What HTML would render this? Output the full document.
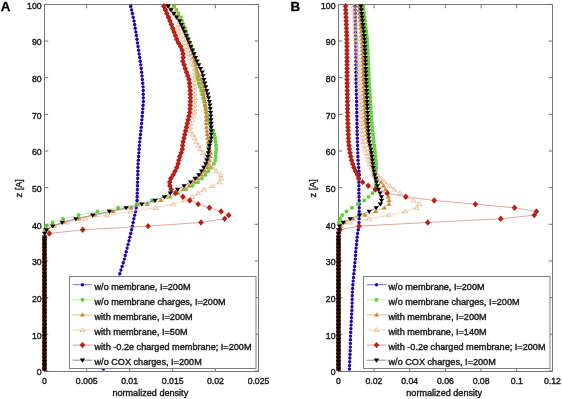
<!DOCTYPE html>
<html><head><meta charset="utf-8"><style>
html,body{margin:0;padding:0;background:#fff;width:562px;height:399px;overflow:hidden}
svg{display:block;filter:blur(0.35px)}
text{font-family:"Liberation Sans",sans-serif}
</style></head><body>
<svg width="562" height="399" viewBox="0 0 562 399">
<rect x="0" y="0" width="562" height="399" fill="#ffffff"/>
<rect x="44.5" y="4.5" width="214.0" height="367.0" fill="none" stroke="#767676" stroke-width="1"/>
<line x1="44.5" y1="371.5" x2="44.5" y2="367.7" stroke="#767676" stroke-width="1"/>
<line x1="44.5" y1="4.5" x2="44.5" y2="8.3" stroke="#767676" stroke-width="1"/>
<line x1="86.7" y1="371.5" x2="86.7" y2="367.7" stroke="#767676" stroke-width="1"/>
<line x1="86.7" y1="4.5" x2="86.7" y2="8.3" stroke="#767676" stroke-width="1"/>
<line x1="129.6" y1="371.5" x2="129.6" y2="367.7" stroke="#767676" stroke-width="1"/>
<line x1="129.6" y1="4.5" x2="129.6" y2="8.3" stroke="#767676" stroke-width="1"/>
<line x1="172.7" y1="371.5" x2="172.7" y2="367.7" stroke="#767676" stroke-width="1"/>
<line x1="172.7" y1="4.5" x2="172.7" y2="8.3" stroke="#767676" stroke-width="1"/>
<line x1="215.4" y1="371.5" x2="215.4" y2="367.7" stroke="#767676" stroke-width="1"/>
<line x1="215.4" y1="4.5" x2="215.4" y2="8.3" stroke="#767676" stroke-width="1"/>
<line x1="258.5" y1="371.5" x2="258.5" y2="367.7" stroke="#767676" stroke-width="1"/>
<line x1="258.5" y1="4.5" x2="258.5" y2="8.3" stroke="#767676" stroke-width="1"/>
<line x1="44.5" y1="370.9" x2="48.3" y2="370.9" stroke="#767676" stroke-width="1"/>
<line x1="258.5" y1="370.9" x2="254.7" y2="370.9" stroke="#767676" stroke-width="1"/>
<line x1="44.5" y1="334.25" x2="48.3" y2="334.25" stroke="#767676" stroke-width="1"/>
<line x1="258.5" y1="334.25" x2="254.7" y2="334.25" stroke="#767676" stroke-width="1"/>
<line x1="44.5" y1="297.59999999999997" x2="48.3" y2="297.59999999999997" stroke="#767676" stroke-width="1"/>
<line x1="258.5" y1="297.59999999999997" x2="254.7" y2="297.59999999999997" stroke="#767676" stroke-width="1"/>
<line x1="44.5" y1="260.95" x2="48.3" y2="260.95" stroke="#767676" stroke-width="1"/>
<line x1="258.5" y1="260.95" x2="254.7" y2="260.95" stroke="#767676" stroke-width="1"/>
<line x1="44.5" y1="224.29999999999998" x2="48.3" y2="224.29999999999998" stroke="#767676" stroke-width="1"/>
<line x1="258.5" y1="224.29999999999998" x2="254.7" y2="224.29999999999998" stroke="#767676" stroke-width="1"/>
<line x1="44.5" y1="187.64999999999998" x2="48.3" y2="187.64999999999998" stroke="#767676" stroke-width="1"/>
<line x1="258.5" y1="187.64999999999998" x2="254.7" y2="187.64999999999998" stroke="#767676" stroke-width="1"/>
<line x1="44.5" y1="150.99999999999997" x2="48.3" y2="150.99999999999997" stroke="#767676" stroke-width="1"/>
<line x1="258.5" y1="150.99999999999997" x2="254.7" y2="150.99999999999997" stroke="#767676" stroke-width="1"/>
<line x1="44.5" y1="114.34999999999997" x2="48.3" y2="114.34999999999997" stroke="#767676" stroke-width="1"/>
<line x1="258.5" y1="114.34999999999997" x2="254.7" y2="114.34999999999997" stroke="#767676" stroke-width="1"/>
<line x1="44.5" y1="77.69999999999999" x2="48.3" y2="77.69999999999999" stroke="#767676" stroke-width="1"/>
<line x1="258.5" y1="77.69999999999999" x2="254.7" y2="77.69999999999999" stroke="#767676" stroke-width="1"/>
<line x1="44.5" y1="41.049999999999955" x2="48.3" y2="41.049999999999955" stroke="#767676" stroke-width="1"/>
<line x1="258.5" y1="41.049999999999955" x2="254.7" y2="41.049999999999955" stroke="#767676" stroke-width="1"/>
<line x1="44.5" y1="4.399999999999977" x2="48.3" y2="4.399999999999977" stroke="#767676" stroke-width="1"/>
<line x1="258.5" y1="4.399999999999977" x2="254.7" y2="4.399999999999977" stroke="#767676" stroke-width="1"/>
<rect x="338.5" y="4.5" width="214.0" height="367.0" fill="none" stroke="#767676" stroke-width="1"/>
<line x1="338.5" y1="371.5" x2="338.5" y2="367.7" stroke="#767676" stroke-width="1"/>
<line x1="338.5" y1="4.5" x2="338.5" y2="8.3" stroke="#767676" stroke-width="1"/>
<line x1="374.0" y1="371.5" x2="374.0" y2="367.7" stroke="#767676" stroke-width="1"/>
<line x1="374.0" y1="4.5" x2="374.0" y2="8.3" stroke="#767676" stroke-width="1"/>
<line x1="409.7" y1="371.5" x2="409.7" y2="367.7" stroke="#767676" stroke-width="1"/>
<line x1="409.7" y1="4.5" x2="409.7" y2="8.3" stroke="#767676" stroke-width="1"/>
<line x1="445.4" y1="371.5" x2="445.4" y2="367.7" stroke="#767676" stroke-width="1"/>
<line x1="445.4" y1="4.5" x2="445.4" y2="8.3" stroke="#767676" stroke-width="1"/>
<line x1="481.1" y1="371.5" x2="481.1" y2="367.7" stroke="#767676" stroke-width="1"/>
<line x1="481.1" y1="4.5" x2="481.1" y2="8.3" stroke="#767676" stroke-width="1"/>
<line x1="516.7" y1="371.5" x2="516.7" y2="367.7" stroke="#767676" stroke-width="1"/>
<line x1="516.7" y1="4.5" x2="516.7" y2="8.3" stroke="#767676" stroke-width="1"/>
<line x1="552.5" y1="371.5" x2="552.5" y2="367.7" stroke="#767676" stroke-width="1"/>
<line x1="552.5" y1="4.5" x2="552.5" y2="8.3" stroke="#767676" stroke-width="1"/>
<line x1="338.5" y1="370.9" x2="342.3" y2="370.9" stroke="#767676" stroke-width="1"/>
<line x1="552.5" y1="370.9" x2="548.7" y2="370.9" stroke="#767676" stroke-width="1"/>
<line x1="338.5" y1="334.25" x2="342.3" y2="334.25" stroke="#767676" stroke-width="1"/>
<line x1="552.5" y1="334.25" x2="548.7" y2="334.25" stroke="#767676" stroke-width="1"/>
<line x1="338.5" y1="297.59999999999997" x2="342.3" y2="297.59999999999997" stroke="#767676" stroke-width="1"/>
<line x1="552.5" y1="297.59999999999997" x2="548.7" y2="297.59999999999997" stroke="#767676" stroke-width="1"/>
<line x1="338.5" y1="260.95" x2="342.3" y2="260.95" stroke="#767676" stroke-width="1"/>
<line x1="552.5" y1="260.95" x2="548.7" y2="260.95" stroke="#767676" stroke-width="1"/>
<line x1="338.5" y1="224.29999999999998" x2="342.3" y2="224.29999999999998" stroke="#767676" stroke-width="1"/>
<line x1="552.5" y1="224.29999999999998" x2="548.7" y2="224.29999999999998" stroke="#767676" stroke-width="1"/>
<line x1="338.5" y1="187.64999999999998" x2="342.3" y2="187.64999999999998" stroke="#767676" stroke-width="1"/>
<line x1="552.5" y1="187.64999999999998" x2="548.7" y2="187.64999999999998" stroke="#767676" stroke-width="1"/>
<line x1="338.5" y1="150.99999999999997" x2="342.3" y2="150.99999999999997" stroke="#767676" stroke-width="1"/>
<line x1="552.5" y1="150.99999999999997" x2="548.7" y2="150.99999999999997" stroke="#767676" stroke-width="1"/>
<line x1="338.5" y1="114.34999999999997" x2="342.3" y2="114.34999999999997" stroke="#767676" stroke-width="1"/>
<line x1="552.5" y1="114.34999999999997" x2="548.7" y2="114.34999999999997" stroke="#767676" stroke-width="1"/>
<line x1="338.5" y1="77.69999999999999" x2="342.3" y2="77.69999999999999" stroke="#767676" stroke-width="1"/>
<line x1="552.5" y1="77.69999999999999" x2="548.7" y2="77.69999999999999" stroke="#767676" stroke-width="1"/>
<line x1="338.5" y1="41.049999999999955" x2="342.3" y2="41.049999999999955" stroke="#767676" stroke-width="1"/>
<line x1="552.5" y1="41.049999999999955" x2="548.7" y2="41.049999999999955" stroke="#767676" stroke-width="1"/>
<line x1="338.5" y1="4.399999999999977" x2="342.3" y2="4.399999999999977" stroke="#767676" stroke-width="1"/>
<line x1="552.5" y1="4.399999999999977" x2="548.7" y2="4.399999999999977" stroke="#767676" stroke-width="1"/>
<g>
<polyline points="103.40,369.07 103.79,365.40 104.17,361.74 104.56,358.07 104.94,354.41 105.32,350.74 105.71,347.08 106.09,343.41 106.48,339.75 106.86,336.08 107.25,332.42 107.73,328.75 108.40,325.09 109.07,321.42 109.74,317.76 110.42,314.09 111.09,310.43 111.76,306.76 112.43,303.10 113.14,299.43 114.08,295.77 115.01,292.10 115.94,288.44 116.87,284.77 117.80,281.11 118.73,277.44 119.79,273.78 120.94,270.11 122.09,266.45 123.23,262.78 124.33,259.12 125.26,255.45 126.19,251.79 127.13,248.12 128.06,244.46 129.00,240.79 129.88,237.13 130.75,233.46 131.57,229.80 132.36,226.13 133.11,222.47 133.84,218.80 134.70,215.14 135.59,211.47 136.25,207.81 136.88,204.14 137.02,200.48 137.14,196.81 137.26,193.15 137.38,189.48 137.48,185.82 137.57,182.15 137.66,178.49 137.75,174.82 137.85,171.16 137.94,167.49 138.08,163.83 138.35,160.16 138.61,156.50 138.87,152.83 139.13,149.17 139.39,145.50 139.72,141.84 140.10,138.17 140.48,134.51 140.86,130.84 141.24,127.18 141.62,123.51 141.92,119.85 142.21,116.18 142.50,112.52 142.78,108.85 143.07,105.19 143.36,101.52 143.35,97.86 143.30,94.19 143.24,90.53 143.09,86.86 142.73,83.20 142.37,79.53 142.00,75.87 141.64,72.20 141.28,68.54 140.78,64.87 140.23,61.21 139.68,57.54 139.13,53.88 138.58,50.21 138.03,46.55 137.48,42.88 136.92,39.22 136.37,35.55 135.81,31.89 135.25,28.22 134.70,24.56 134.03,20.89 133.22,17.23 132.42,13.56 131.61,9.90 130.81,6.23" fill="none" stroke="#5a48e0" stroke-width="0.7"/>
<circle cx="103.40" cy="369.07" r="1.7" fill="#2800b0"/>
<circle cx="103.79" cy="365.40" r="1.7" fill="#2800b0"/>
<circle cx="104.17" cy="361.74" r="1.7" fill="#2800b0"/>
<circle cx="104.56" cy="358.07" r="1.7" fill="#2800b0"/>
<circle cx="104.94" cy="354.41" r="1.7" fill="#2800b0"/>
<circle cx="105.32" cy="350.74" r="1.7" fill="#2800b0"/>
<circle cx="105.71" cy="347.08" r="1.7" fill="#2800b0"/>
<circle cx="106.09" cy="343.41" r="1.7" fill="#2800b0"/>
<circle cx="106.48" cy="339.75" r="1.7" fill="#2800b0"/>
<circle cx="106.86" cy="336.08" r="1.7" fill="#2800b0"/>
<circle cx="107.25" cy="332.42" r="1.7" fill="#2800b0"/>
<circle cx="107.73" cy="328.75" r="1.7" fill="#2800b0"/>
<circle cx="108.40" cy="325.09" r="1.7" fill="#2800b0"/>
<circle cx="109.07" cy="321.42" r="1.7" fill="#2800b0"/>
<circle cx="109.74" cy="317.76" r="1.7" fill="#2800b0"/>
<circle cx="110.42" cy="314.09" r="1.7" fill="#2800b0"/>
<circle cx="111.09" cy="310.43" r="1.7" fill="#2800b0"/>
<circle cx="111.76" cy="306.76" r="1.7" fill="#2800b0"/>
<circle cx="112.43" cy="303.10" r="1.7" fill="#2800b0"/>
<circle cx="113.14" cy="299.43" r="1.7" fill="#2800b0"/>
<circle cx="114.08" cy="295.77" r="1.7" fill="#2800b0"/>
<circle cx="115.01" cy="292.10" r="1.7" fill="#2800b0"/>
<circle cx="115.94" cy="288.44" r="1.7" fill="#2800b0"/>
<circle cx="116.87" cy="284.77" r="1.7" fill="#2800b0"/>
<circle cx="117.80" cy="281.11" r="1.7" fill="#2800b0"/>
<circle cx="118.73" cy="277.44" r="1.7" fill="#2800b0"/>
<circle cx="119.79" cy="273.78" r="1.7" fill="#2800b0"/>
<circle cx="120.94" cy="270.11" r="1.7" fill="#2800b0"/>
<circle cx="122.09" cy="266.45" r="1.7" fill="#2800b0"/>
<circle cx="123.23" cy="262.78" r="1.7" fill="#2800b0"/>
<circle cx="124.33" cy="259.12" r="1.7" fill="#2800b0"/>
<circle cx="125.26" cy="255.45" r="1.7" fill="#2800b0"/>
<circle cx="126.19" cy="251.79" r="1.7" fill="#2800b0"/>
<circle cx="127.13" cy="248.12" r="1.7" fill="#2800b0"/>
<circle cx="128.06" cy="244.46" r="1.7" fill="#2800b0"/>
<circle cx="129.00" cy="240.79" r="1.7" fill="#2800b0"/>
<circle cx="129.88" cy="237.13" r="1.7" fill="#2800b0"/>
<circle cx="130.75" cy="233.46" r="1.7" fill="#2800b0"/>
<circle cx="131.57" cy="229.80" r="1.7" fill="#2800b0"/>
<circle cx="132.36" cy="226.13" r="1.7" fill="#2800b0"/>
<circle cx="133.11" cy="222.47" r="1.7" fill="#2800b0"/>
<circle cx="133.84" cy="218.80" r="1.7" fill="#2800b0"/>
<circle cx="134.70" cy="215.14" r="1.7" fill="#2800b0"/>
<circle cx="135.59" cy="211.47" r="1.7" fill="#2800b0"/>
<circle cx="136.25" cy="207.81" r="1.7" fill="#2800b0"/>
<circle cx="136.88" cy="204.14" r="1.7" fill="#2800b0"/>
<circle cx="137.02" cy="200.48" r="1.7" fill="#2800b0"/>
<circle cx="137.14" cy="196.81" r="1.7" fill="#2800b0"/>
<circle cx="137.26" cy="193.15" r="1.7" fill="#2800b0"/>
<circle cx="137.38" cy="189.48" r="1.7" fill="#2800b0"/>
<circle cx="137.48" cy="185.82" r="1.7" fill="#2800b0"/>
<circle cx="137.57" cy="182.15" r="1.7" fill="#2800b0"/>
<circle cx="137.66" cy="178.49" r="1.7" fill="#2800b0"/>
<circle cx="137.75" cy="174.82" r="1.7" fill="#2800b0"/>
<circle cx="137.85" cy="171.16" r="1.7" fill="#2800b0"/>
<circle cx="137.94" cy="167.49" r="1.7" fill="#2800b0"/>
<circle cx="138.08" cy="163.83" r="1.7" fill="#2800b0"/>
<circle cx="138.35" cy="160.16" r="1.7" fill="#2800b0"/>
<circle cx="138.61" cy="156.50" r="1.7" fill="#2800b0"/>
<circle cx="138.87" cy="152.83" r="1.7" fill="#2800b0"/>
<circle cx="139.13" cy="149.17" r="1.7" fill="#2800b0"/>
<circle cx="139.39" cy="145.50" r="1.7" fill="#2800b0"/>
<circle cx="139.72" cy="141.84" r="1.7" fill="#2800b0"/>
<circle cx="140.10" cy="138.17" r="1.7" fill="#2800b0"/>
<circle cx="140.48" cy="134.51" r="1.7" fill="#2800b0"/>
<circle cx="140.86" cy="130.84" r="1.7" fill="#2800b0"/>
<circle cx="141.24" cy="127.18" r="1.7" fill="#2800b0"/>
<circle cx="141.62" cy="123.51" r="1.7" fill="#2800b0"/>
<circle cx="141.92" cy="119.85" r="1.7" fill="#2800b0"/>
<circle cx="142.21" cy="116.18" r="1.7" fill="#2800b0"/>
<circle cx="142.50" cy="112.52" r="1.7" fill="#2800b0"/>
<circle cx="142.78" cy="108.85" r="1.7" fill="#2800b0"/>
<circle cx="143.07" cy="105.19" r="1.7" fill="#2800b0"/>
<circle cx="143.36" cy="101.52" r="1.7" fill="#2800b0"/>
<circle cx="143.35" cy="97.86" r="1.7" fill="#2800b0"/>
<circle cx="143.30" cy="94.19" r="1.7" fill="#2800b0"/>
<circle cx="143.24" cy="90.53" r="1.7" fill="#2800b0"/>
<circle cx="143.09" cy="86.86" r="1.7" fill="#2800b0"/>
<circle cx="142.73" cy="83.20" r="1.7" fill="#2800b0"/>
<circle cx="142.37" cy="79.53" r="1.7" fill="#2800b0"/>
<circle cx="142.00" cy="75.87" r="1.7" fill="#2800b0"/>
<circle cx="141.64" cy="72.20" r="1.7" fill="#2800b0"/>
<circle cx="141.28" cy="68.54" r="1.7" fill="#2800b0"/>
<circle cx="140.78" cy="64.87" r="1.7" fill="#2800b0"/>
<circle cx="140.23" cy="61.21" r="1.7" fill="#2800b0"/>
<circle cx="139.68" cy="57.54" r="1.7" fill="#2800b0"/>
<circle cx="139.13" cy="53.88" r="1.7" fill="#2800b0"/>
<circle cx="138.58" cy="50.21" r="1.7" fill="#2800b0"/>
<circle cx="138.03" cy="46.55" r="1.7" fill="#2800b0"/>
<circle cx="137.48" cy="42.88" r="1.7" fill="#2800b0"/>
<circle cx="136.92" cy="39.22" r="1.7" fill="#2800b0"/>
<circle cx="136.37" cy="35.55" r="1.7" fill="#2800b0"/>
<circle cx="135.81" cy="31.89" r="1.7" fill="#2800b0"/>
<circle cx="135.25" cy="28.22" r="1.7" fill="#2800b0"/>
<circle cx="134.70" cy="24.56" r="1.7" fill="#2800b0"/>
<circle cx="134.03" cy="20.89" r="1.7" fill="#2800b0"/>
<circle cx="133.22" cy="17.23" r="1.7" fill="#2800b0"/>
<circle cx="132.42" cy="13.56" r="1.7" fill="#2800b0"/>
<circle cx="131.61" cy="9.90" r="1.7" fill="#2800b0"/>
<circle cx="130.81" cy="6.23" r="1.7" fill="#2800b0"/>
<polyline points="44.50,369.07 44.50,365.40 44.50,361.74 44.50,358.07 44.50,354.41 44.50,350.74 44.50,347.08 44.50,343.41 44.50,339.75 44.50,336.08 44.50,332.42 44.50,328.75 44.50,325.09 44.50,321.42 44.50,317.76 44.50,314.09 44.50,310.43 44.50,306.76 44.50,303.10 44.50,299.43 44.50,295.77 44.50,292.10 44.50,288.44 44.50,284.77 44.50,281.11 44.50,277.44 44.50,273.78 44.50,270.11 44.50,266.45 44.50,262.78 44.50,259.12 44.50,255.45 44.50,251.79 44.50,248.12 44.50,244.46 44.50,240.79 44.50,237.13 44.50,233.46 44.80,229.80 46.70,226.13 52.60,222.47 63.10,218.80 78.70,215.14 97.50,211.47 118.00,207.81 137.40,204.14 152.00,200.48 166.00,196.81 178.00,193.15 186.00,189.48 192.50,185.82 198.00,182.15 202.00,178.49 205.50,174.82 208.50,171.16 211.00,167.49 213.90,163.83 215.20,160.16 215.70,156.50 215.90,152.83 216.20,149.17 215.90,145.50 215.60,141.84 215.05,138.17 214.50,134.51 213.50,130.84 210.99,127.18 209.51,123.51 208.02,119.85 207.16,116.18 206.30,112.52 205.60,108.85 204.90,105.19 204.20,101.52 203.14,97.86 202.07,94.19 201.01,90.53 199.88,86.86 198.74,83.20 197.61,79.53 197.16,75.87 196.72,72.20 196.27,68.54 195.83,64.87 195.38,61.21 194.94,57.54 194.49,53.88 192.98,50.21 191.46,46.55 189.96,42.88 188.72,39.22 187.48,35.55 186.25,31.89 185.01,28.22 183.52,24.56 182.14,20.89 180.89,17.23 178.56,13.56 176.40,9.90 174.33,6.23" fill="none" stroke="#a8e898" stroke-width="0.7"/>
<rect x="43.10" y="228.10" width="3.4" height="3.4" fill="#62cc38"/>
<rect x="45.00" y="224.43" width="3.4" height="3.4" fill="#62cc38"/>
<rect x="50.90" y="220.77" width="3.4" height="3.4" fill="#62cc38"/>
<rect x="61.40" y="217.10" width="3.4" height="3.4" fill="#62cc38"/>
<rect x="77.00" y="213.44" width="3.4" height="3.4" fill="#62cc38"/>
<rect x="95.80" y="209.77" width="3.4" height="3.4" fill="#62cc38"/>
<rect x="116.30" y="206.11" width="3.4" height="3.4" fill="#62cc38"/>
<rect x="135.70" y="202.44" width="3.4" height="3.4" fill="#62cc38"/>
<rect x="150.30" y="198.78" width="3.4" height="3.4" fill="#62cc38"/>
<rect x="164.30" y="195.11" width="3.4" height="3.4" fill="#62cc38"/>
<rect x="176.30" y="191.45" width="3.4" height="3.4" fill="#62cc38"/>
<rect x="184.30" y="187.78" width="3.4" height="3.4" fill="#62cc38"/>
<rect x="190.80" y="184.12" width="3.4" height="3.4" fill="#62cc38"/>
<rect x="196.30" y="180.45" width="3.4" height="3.4" fill="#62cc38"/>
<rect x="200.30" y="176.79" width="3.4" height="3.4" fill="#62cc38"/>
<rect x="203.80" y="173.12" width="3.4" height="3.4" fill="#62cc38"/>
<rect x="206.80" y="169.46" width="3.4" height="3.4" fill="#62cc38"/>
<rect x="209.30" y="165.79" width="3.4" height="3.4" fill="#62cc38"/>
<rect x="212.20" y="162.13" width="3.4" height="3.4" fill="#62cc38"/>
<rect x="213.50" y="158.46" width="3.4" height="3.4" fill="#62cc38"/>
<rect x="214.00" y="154.80" width="3.4" height="3.4" fill="#62cc38"/>
<rect x="214.20" y="151.13" width="3.4" height="3.4" fill="#62cc38"/>
<rect x="214.50" y="147.47" width="3.4" height="3.4" fill="#62cc38"/>
<rect x="214.20" y="143.80" width="3.4" height="3.4" fill="#62cc38"/>
<rect x="213.90" y="140.14" width="3.4" height="3.4" fill="#62cc38"/>
<rect x="213.35" y="136.47" width="3.4" height="3.4" fill="#62cc38"/>
<rect x="212.80" y="132.81" width="3.4" height="3.4" fill="#62cc38"/>
<rect x="211.80" y="129.14" width="3.4" height="3.4" fill="#62cc38"/>
<rect x="209.29" y="125.48" width="3.4" height="3.4" fill="#62cc38"/>
<rect x="207.81" y="121.81" width="3.4" height="3.4" fill="#62cc38"/>
<rect x="206.32" y="118.15" width="3.4" height="3.4" fill="#62cc38"/>
<rect x="205.46" y="114.48" width="3.4" height="3.4" fill="#62cc38"/>
<rect x="204.60" y="110.82" width="3.4" height="3.4" fill="#62cc38"/>
<rect x="203.90" y="107.15" width="3.4" height="3.4" fill="#62cc38"/>
<rect x="203.20" y="103.49" width="3.4" height="3.4" fill="#62cc38"/>
<rect x="202.50" y="99.82" width="3.4" height="3.4" fill="#62cc38"/>
<rect x="201.44" y="96.16" width="3.4" height="3.4" fill="#62cc38"/>
<rect x="200.37" y="92.49" width="3.4" height="3.4" fill="#62cc38"/>
<rect x="199.31" y="88.83" width="3.4" height="3.4" fill="#62cc38"/>
<rect x="198.18" y="85.16" width="3.4" height="3.4" fill="#62cc38"/>
<rect x="197.04" y="81.50" width="3.4" height="3.4" fill="#62cc38"/>
<rect x="195.91" y="77.83" width="3.4" height="3.4" fill="#62cc38"/>
<rect x="195.46" y="74.17" width="3.4" height="3.4" fill="#62cc38"/>
<rect x="195.02" y="70.50" width="3.4" height="3.4" fill="#62cc38"/>
<rect x="194.57" y="66.84" width="3.4" height="3.4" fill="#62cc38"/>
<rect x="194.13" y="63.17" width="3.4" height="3.4" fill="#62cc38"/>
<rect x="193.68" y="59.51" width="3.4" height="3.4" fill="#62cc38"/>
<rect x="193.24" y="55.84" width="3.4" height="3.4" fill="#62cc38"/>
<rect x="192.79" y="52.18" width="3.4" height="3.4" fill="#62cc38"/>
<rect x="191.28" y="48.51" width="3.4" height="3.4" fill="#62cc38"/>
<rect x="189.76" y="44.85" width="3.4" height="3.4" fill="#62cc38"/>
<rect x="188.26" y="41.18" width="3.4" height="3.4" fill="#62cc38"/>
<rect x="187.02" y="37.52" width="3.4" height="3.4" fill="#62cc38"/>
<rect x="185.78" y="33.85" width="3.4" height="3.4" fill="#62cc38"/>
<rect x="184.55" y="30.19" width="3.4" height="3.4" fill="#62cc38"/>
<rect x="183.31" y="26.52" width="3.4" height="3.4" fill="#62cc38"/>
<rect x="181.82" y="22.86" width="3.4" height="3.4" fill="#62cc38"/>
<rect x="180.44" y="19.19" width="3.4" height="3.4" fill="#62cc38"/>
<rect x="179.19" y="15.53" width="3.4" height="3.4" fill="#62cc38"/>
<rect x="176.86" y="11.86" width="3.4" height="3.4" fill="#62cc38"/>
<rect x="174.70" y="8.20" width="3.4" height="3.4" fill="#62cc38"/>
<rect x="172.63" y="4.53" width="3.4" height="3.4" fill="#62cc38"/>
<polyline points="44.50,369.07 44.50,365.40 44.50,361.74 44.50,358.07 44.50,354.41 44.50,350.74 44.50,347.08 44.50,343.41 44.50,339.75 44.50,336.08 44.50,332.42 44.50,328.75 44.50,325.09 44.50,321.42 44.50,317.76 44.50,314.09 44.50,310.43 44.50,306.76 44.50,303.10 44.50,299.43 44.50,295.77 44.50,292.10 44.50,288.44 44.50,284.77 44.50,281.11 44.50,277.44 44.50,273.78 44.50,270.11 44.50,266.45 44.50,262.78 44.50,259.12 44.50,255.45 44.50,251.79 44.50,248.12 44.50,244.46 44.50,240.79 44.50,237.13 44.50,233.46 46.50,229.80 53.00,226.13 64.00,222.47 79.00,218.80 95.00,215.14 113.10,211.47 131.10,207.81 147.30,204.14 160.90,200.48 170.00,196.81 176.50,193.15 183.20,189.48 189.10,185.82 194.50,182.15 198.00,178.49 201.50,174.82 204.90,171.16 207.60,167.49 208.50,163.83 209.40,160.16 210.13,156.50 210.50,152.83 209.56,149.17 208.77,145.50 208.20,141.84 207.63,138.17 207.25,134.51 206.88,130.84 206.58,127.18 206.33,123.51 206.22,119.85 206.13,116.18 206.04,112.52 205.74,108.85 205.26,105.19 204.77,101.52 204.29,97.86 203.82,94.19 203.34,90.53 202.87,86.86 201.86,83.20 200.49,79.53 199.03,75.87 197.48,72.20 195.84,68.54 194.96,64.87 194.22,61.21 193.44,57.54 192.66,53.88 191.79,50.21 190.50,46.55 189.21,42.88 187.85,39.22 186.23,35.55 184.60,31.89 182.98,28.22 181.36,24.56 179.53,20.89 176.68,17.23 173.83,13.56 170.98,9.90 168.13,6.23" fill="none" stroke="#dcac72" stroke-width="0.7"/>
<path d="M46.50 227.40L49.10 231.40L43.90 231.40Z" fill="#c8893a"/>
<path d="M53.00 223.73L55.60 227.73L50.40 227.73Z" fill="#c8893a"/>
<path d="M64.00 220.07L66.60 224.07L61.40 224.07Z" fill="#c8893a"/>
<path d="M79.00 216.40L81.60 220.40L76.40 220.40Z" fill="#c8893a"/>
<path d="M95.00 212.74L97.60 216.74L92.40 216.74Z" fill="#c8893a"/>
<path d="M113.10 209.07L115.70 213.07L110.50 213.07Z" fill="#c8893a"/>
<path d="M131.10 205.41L133.70 209.41L128.50 209.41Z" fill="#c8893a"/>
<path d="M147.30 201.74L149.90 205.74L144.70 205.74Z" fill="#c8893a"/>
<path d="M160.90 198.08L163.50 202.08L158.30 202.08Z" fill="#c8893a"/>
<path d="M170.00 194.41L172.60 198.41L167.40 198.41Z" fill="#c8893a"/>
<path d="M176.50 190.75L179.10 194.75L173.90 194.75Z" fill="#c8893a"/>
<path d="M183.20 187.08L185.80 191.08L180.60 191.08Z" fill="#c8893a"/>
<path d="M189.10 183.42L191.70 187.42L186.50 187.42Z" fill="#c8893a"/>
<path d="M194.50 179.75L197.10 183.75L191.90 183.75Z" fill="#c8893a"/>
<path d="M198.00 176.09L200.60 180.09L195.40 180.09Z" fill="#c8893a"/>
<path d="M201.50 172.42L204.10 176.42L198.90 176.42Z" fill="#c8893a"/>
<path d="M204.90 168.76L207.50 172.76L202.30 172.76Z" fill="#c8893a"/>
<path d="M207.60 165.09L210.20 169.09L205.00 169.09Z" fill="#c8893a"/>
<path d="M208.50 161.43L211.10 165.43L205.90 165.43Z" fill="#c8893a"/>
<path d="M209.40 157.76L212.00 161.76L206.80 161.76Z" fill="#c8893a"/>
<path d="M210.13 154.10L212.73 158.10L207.53 158.10Z" fill="#c8893a"/>
<path d="M210.50 150.43L213.10 154.43L207.90 154.43Z" fill="#c8893a"/>
<path d="M209.56 146.77L212.16 150.77L206.96 150.77Z" fill="#c8893a"/>
<path d="M208.77 143.10L211.37 147.10L206.17 147.10Z" fill="#c8893a"/>
<path d="M208.20 139.44L210.80 143.44L205.60 143.44Z" fill="#c8893a"/>
<path d="M207.63 135.77L210.23 139.77L205.03 139.77Z" fill="#c8893a"/>
<path d="M207.25 132.11L209.85 136.11L204.65 136.11Z" fill="#c8893a"/>
<path d="M206.88 128.44L209.48 132.44L204.28 132.44Z" fill="#c8893a"/>
<path d="M206.58 124.78L209.18 128.78L203.98 128.78Z" fill="#c8893a"/>
<path d="M206.33 121.11L208.93 125.11L203.73 125.11Z" fill="#c8893a"/>
<path d="M206.22 117.45L208.82 121.45L203.62 121.45Z" fill="#c8893a"/>
<path d="M206.13 113.78L208.73 117.78L203.53 117.78Z" fill="#c8893a"/>
<path d="M206.04 110.12L208.64 114.12L203.44 114.12Z" fill="#c8893a"/>
<path d="M205.74 106.45L208.34 110.45L203.14 110.45Z" fill="#c8893a"/>
<path d="M205.26 102.79L207.86 106.79L202.66 106.79Z" fill="#c8893a"/>
<path d="M204.77 99.12L207.37 103.12L202.17 103.12Z" fill="#c8893a"/>
<path d="M204.29 95.46L206.89 99.46L201.69 99.46Z" fill="#c8893a"/>
<path d="M203.82 91.79L206.42 95.79L201.22 95.79Z" fill="#c8893a"/>
<path d="M203.34 88.13L205.94 92.13L200.74 92.13Z" fill="#c8893a"/>
<path d="M202.87 84.46L205.47 88.46L200.27 88.46Z" fill="#c8893a"/>
<path d="M201.86 80.80L204.46 84.80L199.26 84.80Z" fill="#c8893a"/>
<path d="M200.49 77.13L203.09 81.13L197.89 81.13Z" fill="#c8893a"/>
<path d="M199.03 73.47L201.63 77.47L196.43 77.47Z" fill="#c8893a"/>
<path d="M197.48 69.80L200.08 73.80L194.88 73.80Z" fill="#c8893a"/>
<path d="M195.84 66.14L198.44 70.14L193.24 70.14Z" fill="#c8893a"/>
<path d="M194.96 62.47L197.56 66.47L192.36 66.47Z" fill="#c8893a"/>
<path d="M194.22 58.81L196.82 62.81L191.62 62.81Z" fill="#c8893a"/>
<path d="M193.44 55.14L196.04 59.14L190.84 59.14Z" fill="#c8893a"/>
<path d="M192.66 51.48L195.26 55.48L190.06 55.48Z" fill="#c8893a"/>
<path d="M191.79 47.81L194.39 51.81L189.19 51.81Z" fill="#c8893a"/>
<path d="M190.50 44.15L193.10 48.15L187.90 48.15Z" fill="#c8893a"/>
<path d="M189.21 40.48L191.81 44.48L186.61 44.48Z" fill="#c8893a"/>
<path d="M187.85 36.82L190.45 40.82L185.25 40.82Z" fill="#c8893a"/>
<path d="M186.23 33.15L188.83 37.15L183.63 37.15Z" fill="#c8893a"/>
<path d="M184.60 29.49L187.20 33.49L182.00 33.49Z" fill="#c8893a"/>
<path d="M182.98 25.82L185.58 29.82L180.38 29.82Z" fill="#c8893a"/>
<path d="M181.36 22.16L183.96 26.16L178.76 26.16Z" fill="#c8893a"/>
<path d="M179.53 18.49L182.13 22.49L176.93 22.49Z" fill="#c8893a"/>
<path d="M176.68 14.83L179.28 18.83L174.08 18.83Z" fill="#c8893a"/>
<path d="M173.83 11.16L176.43 15.16L171.23 15.16Z" fill="#c8893a"/>
<path d="M170.98 7.50L173.58 11.50L168.38 11.50Z" fill="#c8893a"/>
<path d="M168.13 3.83L170.73 7.83L165.53 7.83Z" fill="#c8893a"/>
<polyline points="44.50,369.07 44.50,365.40 44.50,361.74 44.50,358.07 44.50,354.41 44.50,350.74 44.50,347.08 44.50,343.41 44.50,339.75 44.50,336.08 44.50,332.42 44.50,328.75 44.50,325.09 44.50,321.42 44.50,317.76 44.50,314.09 44.50,310.43 44.50,306.76 44.50,303.10 44.50,299.43 44.50,295.77 44.50,292.10 44.50,288.44 44.50,284.77 44.50,281.11 44.50,277.44 44.50,273.78 44.50,270.11 44.50,266.45 44.50,262.78 44.50,259.12 44.50,255.45 44.50,251.79 44.50,248.12 44.50,244.46 44.50,240.79 44.50,237.13 44.50,233.46 47.00,229.80 54.00,226.13 67.00,222.47 85.30,218.80 107.10,215.14 130.70,211.47 155.60,207.81 173.30,204.14 184.50,200.48 192.20,196.81 198.20,193.15 203.80,189.48 212.50,185.82 219.50,182.15 221.10,178.49 220.60,174.82 216.10,171.16 212.10,167.49 208.90,163.83 206.20,160.16 205.80,156.50 203.00,152.83 200.17,149.17 198.26,145.50 196.19,141.84 194.64,138.17 192.56,134.51 190.40,130.84 190.40,127.18 190.91,123.51 192.17,119.85 193.44,116.18 194.54,112.52 194.57,108.85 194.53,105.19 194.50,101.52 194.53,97.86 194.57,94.19 194.61,90.53 194.70,86.86 194.59,83.20 194.55,79.53 194.77,75.87 194.76,72.20 194.45,68.54 193.26,64.87 191.45,61.21 189.84,57.54 188.69,53.88 187.58,50.21 186.06,46.55 184.58,42.88 182.94,39.22 180.39,35.55 178.82,31.89 177.66,28.22 178.49,24.56 179.87,20.89 178.34,17.23 175.97,13.56 173.31,9.90 171.02,6.23" fill="none" stroke="#ecc8a0" stroke-width="0.7"/>
<path d="M47.00 227.40L49.50 231.40L44.50 231.40Z" fill="none" stroke="#dfb084" stroke-width="0.7"/>
<path d="M54.00 223.73L56.50 227.73L51.50 227.73Z" fill="none" stroke="#dfb084" stroke-width="0.7"/>
<path d="M67.00 220.07L69.50 224.07L64.50 224.07Z" fill="none" stroke="#dfb084" stroke-width="0.7"/>
<path d="M85.30 216.40L87.80 220.40L82.80 220.40Z" fill="none" stroke="#dfb084" stroke-width="0.7"/>
<path d="M107.10 212.74L109.60 216.74L104.60 216.74Z" fill="none" stroke="#dfb084" stroke-width="0.7"/>
<path d="M130.70 209.07L133.20 213.07L128.20 213.07Z" fill="none" stroke="#dfb084" stroke-width="0.7"/>
<path d="M155.60 205.41L158.10 209.41L153.10 209.41Z" fill="none" stroke="#dfb084" stroke-width="0.7"/>
<path d="M173.30 201.74L175.80 205.74L170.80 205.74Z" fill="none" stroke="#dfb084" stroke-width="0.7"/>
<path d="M184.50 198.08L187.00 202.08L182.00 202.08Z" fill="none" stroke="#dfb084" stroke-width="0.7"/>
<path d="M192.20 194.41L194.70 198.41L189.70 198.41Z" fill="none" stroke="#dfb084" stroke-width="0.7"/>
<path d="M198.20 190.75L200.70 194.75L195.70 194.75Z" fill="none" stroke="#dfb084" stroke-width="0.7"/>
<path d="M203.80 187.08L206.30 191.08L201.30 191.08Z" fill="none" stroke="#dfb084" stroke-width="0.7"/>
<path d="M212.50 183.42L215.00 187.42L210.00 187.42Z" fill="none" stroke="#dfb084" stroke-width="0.7"/>
<path d="M219.50 179.75L222.00 183.75L217.00 183.75Z" fill="none" stroke="#dfb084" stroke-width="0.7"/>
<path d="M221.10 176.09L223.60 180.09L218.60 180.09Z" fill="none" stroke="#dfb084" stroke-width="0.7"/>
<path d="M220.60 172.42L223.10 176.42L218.10 176.42Z" fill="none" stroke="#dfb084" stroke-width="0.7"/>
<path d="M216.10 168.76L218.60 172.76L213.60 172.76Z" fill="none" stroke="#dfb084" stroke-width="0.7"/>
<path d="M212.10 165.09L214.60 169.09L209.60 169.09Z" fill="none" stroke="#dfb084" stroke-width="0.7"/>
<path d="M208.90 161.43L211.40 165.43L206.40 165.43Z" fill="none" stroke="#dfb084" stroke-width="0.7"/>
<path d="M206.20 157.76L208.70 161.76L203.70 161.76Z" fill="none" stroke="#dfb084" stroke-width="0.7"/>
<path d="M205.80 154.10L208.30 158.10L203.30 158.10Z" fill="none" stroke="#dfb084" stroke-width="0.7"/>
<path d="M203.00 150.43L205.50 154.43L200.50 154.43Z" fill="none" stroke="#dfb084" stroke-width="0.7"/>
<path d="M200.17 146.77L202.67 150.77L197.67 150.77Z" fill="none" stroke="#dfb084" stroke-width="0.7"/>
<path d="M198.26 143.10L200.76 147.10L195.76 147.10Z" fill="none" stroke="#dfb084" stroke-width="0.7"/>
<path d="M196.19 139.44L198.69 143.44L193.69 143.44Z" fill="none" stroke="#dfb084" stroke-width="0.7"/>
<path d="M194.64 135.77L197.14 139.77L192.14 139.77Z" fill="none" stroke="#dfb084" stroke-width="0.7"/>
<path d="M192.56 132.11L195.06 136.11L190.06 136.11Z" fill="none" stroke="#dfb084" stroke-width="0.7"/>
<path d="M190.40 128.44L192.90 132.44L187.90 132.44Z" fill="none" stroke="#dfb084" stroke-width="0.7"/>
<path d="M190.40 124.78L192.90 128.78L187.90 128.78Z" fill="none" stroke="#dfb084" stroke-width="0.7"/>
<path d="M190.91 121.11L193.41 125.11L188.41 125.11Z" fill="none" stroke="#dfb084" stroke-width="0.7"/>
<path d="M192.17 117.45L194.67 121.45L189.67 121.45Z" fill="none" stroke="#dfb084" stroke-width="0.7"/>
<path d="M193.44 113.78L195.94 117.78L190.94 117.78Z" fill="none" stroke="#dfb084" stroke-width="0.7"/>
<path d="M194.54 110.12L197.04 114.12L192.04 114.12Z" fill="none" stroke="#dfb084" stroke-width="0.7"/>
<path d="M194.57 106.45L197.07 110.45L192.07 110.45Z" fill="none" stroke="#dfb084" stroke-width="0.7"/>
<path d="M194.53 102.79L197.03 106.79L192.03 106.79Z" fill="none" stroke="#dfb084" stroke-width="0.7"/>
<path d="M194.50 99.12L197.00 103.12L192.00 103.12Z" fill="none" stroke="#dfb084" stroke-width="0.7"/>
<path d="M194.53 95.46L197.03 99.46L192.03 99.46Z" fill="none" stroke="#dfb084" stroke-width="0.7"/>
<path d="M194.57 91.79L197.07 95.79L192.07 95.79Z" fill="none" stroke="#dfb084" stroke-width="0.7"/>
<path d="M194.61 88.13L197.11 92.13L192.11 92.13Z" fill="none" stroke="#dfb084" stroke-width="0.7"/>
<path d="M194.70 84.46L197.20 88.46L192.20 88.46Z" fill="none" stroke="#dfb084" stroke-width="0.7"/>
<path d="M194.59 80.80L197.09 84.80L192.09 84.80Z" fill="none" stroke="#dfb084" stroke-width="0.7"/>
<path d="M194.55 77.13L197.05 81.13L192.05 81.13Z" fill="none" stroke="#dfb084" stroke-width="0.7"/>
<path d="M194.77 73.47L197.27 77.47L192.27 77.47Z" fill="none" stroke="#dfb084" stroke-width="0.7"/>
<path d="M194.76 69.80L197.26 73.80L192.26 73.80Z" fill="none" stroke="#dfb084" stroke-width="0.7"/>
<path d="M194.45 66.14L196.95 70.14L191.95 70.14Z" fill="none" stroke="#dfb084" stroke-width="0.7"/>
<path d="M193.26 62.47L195.76 66.47L190.76 66.47Z" fill="none" stroke="#dfb084" stroke-width="0.7"/>
<path d="M191.45 58.81L193.95 62.81L188.95 62.81Z" fill="none" stroke="#dfb084" stroke-width="0.7"/>
<path d="M189.84 55.14L192.34 59.14L187.34 59.14Z" fill="none" stroke="#dfb084" stroke-width="0.7"/>
<path d="M188.69 51.48L191.19 55.48L186.19 55.48Z" fill="none" stroke="#dfb084" stroke-width="0.7"/>
<path d="M187.58 47.81L190.08 51.81L185.08 51.81Z" fill="none" stroke="#dfb084" stroke-width="0.7"/>
<path d="M186.06 44.15L188.56 48.15L183.56 48.15Z" fill="none" stroke="#dfb084" stroke-width="0.7"/>
<path d="M184.58 40.48L187.08 44.48L182.08 44.48Z" fill="none" stroke="#dfb084" stroke-width="0.7"/>
<path d="M182.94 36.82L185.44 40.82L180.44 40.82Z" fill="none" stroke="#dfb084" stroke-width="0.7"/>
<path d="M180.39 33.15L182.89 37.15L177.89 37.15Z" fill="none" stroke="#dfb084" stroke-width="0.7"/>
<path d="M178.82 29.49L181.32 33.49L176.32 33.49Z" fill="none" stroke="#dfb084" stroke-width="0.7"/>
<path d="M177.66 25.82L180.16 29.82L175.16 29.82Z" fill="none" stroke="#dfb084" stroke-width="0.7"/>
<path d="M178.49 22.16L180.99 26.16L175.99 26.16Z" fill="none" stroke="#dfb084" stroke-width="0.7"/>
<path d="M179.87 18.49L182.37 22.49L177.37 22.49Z" fill="none" stroke="#dfb084" stroke-width="0.7"/>
<path d="M178.34 14.83L180.84 18.83L175.84 18.83Z" fill="none" stroke="#dfb084" stroke-width="0.7"/>
<path d="M175.97 11.16L178.47 15.16L173.47 15.16Z" fill="none" stroke="#dfb084" stroke-width="0.7"/>
<path d="M173.31 7.50L175.81 11.50L170.81 11.50Z" fill="none" stroke="#dfb084" stroke-width="0.7"/>
<path d="M171.02 3.83L173.52 7.83L168.52 7.83Z" fill="none" stroke="#dfb084" stroke-width="0.7"/>
<polyline points="44.50,369.07 44.50,365.40 44.50,361.74 44.50,358.07 44.50,354.41 44.50,350.74 44.50,347.08 44.50,343.41 44.50,339.75 44.50,336.08 44.50,332.42 44.50,328.75 44.50,325.09 44.50,321.42 44.50,317.76 44.50,314.09 44.50,310.43 44.50,306.76 44.50,303.10 44.50,299.43 44.50,295.77 44.50,292.10 44.50,288.44 44.50,284.77 44.50,281.11 44.50,277.44 44.50,273.78 44.50,270.11 44.50,266.45 44.50,262.78 44.50,259.12 44.50,255.45 44.50,251.79 44.50,248.12 44.50,244.46 44.50,240.79 44.80,237.13 49.40,233.46 82.70,229.80 148.10,226.13 201.00,222.47 224.60,218.80 228.70,215.14 221.10,211.47 209.40,207.81 198.20,204.14 189.80,200.48 182.90,196.81 175.50,193.15 171.20,189.48 169.90,185.82 169.65,182.15 170.85,178.49 173.24,174.82 175.10,171.16 176.80,167.49 178.13,163.83 178.87,160.16 179.77,156.50 181.14,152.83 182.27,149.17 182.57,145.50 183.17,141.84 183.96,138.17 184.76,134.51 185.59,130.84 186.44,127.18 187.28,123.51 188.11,119.85 188.93,116.18 189.75,112.52 189.99,108.85 190.20,105.19 190.40,101.52 190.34,97.86 190.27,94.19 190.21,90.53 189.88,86.86 189.50,83.20 188.95,79.53 187.77,75.87 186.52,72.20 185.19,68.54 184.15,64.87 182.84,61.21 183.17,57.54 183.12,53.88 182.22,50.21 180.63,46.55 178.43,42.88 176.71,39.22 175.37,35.55 174.02,31.89 172.67,28.22 171.32,24.56 169.95,20.89 168.41,17.23 166.88,13.56 165.35,9.90 163.81,6.23" fill="none" stroke="#d4807a" stroke-width="0.7"/>
<path d="M44.80 233.93L47.60 237.13L44.80 240.33L42.00 237.13Z" fill="#b4221a"/>
<path d="M49.40 230.26L52.20 233.46L49.40 236.66L46.60 233.46Z" fill="#b4221a"/>
<path d="M82.70 226.60L85.50 229.80L82.70 233.00L79.90 229.80Z" fill="#b4221a"/>
<path d="M148.10 222.93L150.90 226.13L148.10 229.33L145.30 226.13Z" fill="#b4221a"/>
<path d="M201.00 219.27L203.80 222.47L201.00 225.67L198.20 222.47Z" fill="#b4221a"/>
<path d="M224.60 215.60L227.40 218.80L224.60 222.00L221.80 218.80Z" fill="#b4221a"/>
<path d="M228.70 211.94L231.50 215.14L228.70 218.34L225.90 215.14Z" fill="#b4221a"/>
<path d="M221.10 208.27L223.90 211.47L221.10 214.67L218.30 211.47Z" fill="#b4221a"/>
<path d="M209.40 204.61L212.20 207.81L209.40 211.01L206.60 207.81Z" fill="#b4221a"/>
<path d="M198.20 200.94L201.00 204.14L198.20 207.34L195.40 204.14Z" fill="#b4221a"/>
<path d="M189.80 197.28L192.60 200.48L189.80 203.68L187.00 200.48Z" fill="#b4221a"/>
<path d="M182.90 193.61L185.70 196.81L182.90 200.01L180.10 196.81Z" fill="#b4221a"/>
<path d="M175.50 189.95L178.30 193.15L175.50 196.35L172.70 193.15Z" fill="#b4221a"/>
<path d="M171.20 186.28L174.00 189.48L171.20 192.68L168.40 189.48Z" fill="#b4221a"/>
<path d="M169.90 182.62L172.70 185.82L169.90 189.02L167.10 185.82Z" fill="#b4221a"/>
<path d="M169.65 178.95L172.45 182.15L169.65 185.35L166.85 182.15Z" fill="#b4221a"/>
<path d="M170.85 175.29L173.65 178.49L170.85 181.69L168.05 178.49Z" fill="#b4221a"/>
<path d="M173.24 171.62L176.04 174.82L173.24 178.02L170.44 174.82Z" fill="#b4221a"/>
<path d="M175.10 167.96L177.90 171.16L175.10 174.36L172.30 171.16Z" fill="#b4221a"/>
<path d="M176.80 164.29L179.60 167.49L176.80 170.69L174.00 167.49Z" fill="#b4221a"/>
<path d="M178.13 160.63L180.93 163.83L178.13 167.03L175.33 163.83Z" fill="#b4221a"/>
<path d="M178.87 156.96L181.67 160.16L178.87 163.36L176.07 160.16Z" fill="#b4221a"/>
<path d="M179.77 153.30L182.57 156.50L179.77 159.70L176.97 156.50Z" fill="#b4221a"/>
<path d="M181.14 149.63L183.94 152.83L181.14 156.03L178.34 152.83Z" fill="#b4221a"/>
<path d="M182.27 145.97L185.07 149.17L182.27 152.37L179.47 149.17Z" fill="#b4221a"/>
<path d="M182.57 142.30L185.37 145.50L182.57 148.70L179.77 145.50Z" fill="#b4221a"/>
<path d="M183.17 138.64L185.97 141.84L183.17 145.04L180.37 141.84Z" fill="#b4221a"/>
<path d="M183.96 134.97L186.76 138.17L183.96 141.37L181.16 138.17Z" fill="#b4221a"/>
<path d="M184.76 131.31L187.56 134.51L184.76 137.71L181.96 134.51Z" fill="#b4221a"/>
<path d="M185.59 127.64L188.39 130.84L185.59 134.04L182.79 130.84Z" fill="#b4221a"/>
<path d="M186.44 123.98L189.24 127.18L186.44 130.38L183.64 127.18Z" fill="#b4221a"/>
<path d="M187.28 120.31L190.08 123.51L187.28 126.71L184.48 123.51Z" fill="#b4221a"/>
<path d="M188.11 116.65L190.91 119.85L188.11 123.05L185.31 119.85Z" fill="#b4221a"/>
<path d="M188.93 112.98L191.73 116.18L188.93 119.38L186.13 116.18Z" fill="#b4221a"/>
<path d="M189.75 109.32L192.55 112.52L189.75 115.72L186.95 112.52Z" fill="#b4221a"/>
<path d="M189.99 105.65L192.79 108.85L189.99 112.05L187.19 108.85Z" fill="#b4221a"/>
<path d="M190.20 101.99L193.00 105.19L190.20 108.39L187.40 105.19Z" fill="#b4221a"/>
<path d="M190.40 98.32L193.20 101.52L190.40 104.72L187.60 101.52Z" fill="#b4221a"/>
<path d="M190.34 94.66L193.14 97.86L190.34 101.06L187.54 97.86Z" fill="#b4221a"/>
<path d="M190.27 90.99L193.07 94.19L190.27 97.39L187.47 94.19Z" fill="#b4221a"/>
<path d="M190.21 87.33L193.01 90.53L190.21 93.73L187.41 90.53Z" fill="#b4221a"/>
<path d="M189.88 83.66L192.68 86.86L189.88 90.06L187.08 86.86Z" fill="#b4221a"/>
<path d="M189.50 80.00L192.30 83.20L189.50 86.40L186.70 83.20Z" fill="#b4221a"/>
<path d="M188.95 76.33L191.75 79.53L188.95 82.73L186.15 79.53Z" fill="#b4221a"/>
<path d="M187.77 72.67L190.57 75.87L187.77 79.07L184.97 75.87Z" fill="#b4221a"/>
<path d="M186.52 69.00L189.32 72.20L186.52 75.40L183.72 72.20Z" fill="#b4221a"/>
<path d="M185.19 65.34L187.99 68.54L185.19 71.74L182.39 68.54Z" fill="#b4221a"/>
<path d="M184.15 61.67L186.95 64.87L184.15 68.07L181.35 64.87Z" fill="#b4221a"/>
<path d="M182.84 58.01L185.64 61.21L182.84 64.41L180.04 61.21Z" fill="#b4221a"/>
<path d="M183.17 54.34L185.97 57.54L183.17 60.74L180.37 57.54Z" fill="#b4221a"/>
<path d="M183.12 50.68L185.92 53.88L183.12 57.08L180.32 53.88Z" fill="#b4221a"/>
<path d="M182.22 47.01L185.02 50.21L182.22 53.41L179.42 50.21Z" fill="#b4221a"/>
<path d="M180.63 43.35L183.43 46.55L180.63 49.75L177.83 46.55Z" fill="#b4221a"/>
<path d="M178.43 39.68L181.23 42.88L178.43 46.08L175.63 42.88Z" fill="#b4221a"/>
<path d="M176.71 36.02L179.51 39.22L176.71 42.42L173.91 39.22Z" fill="#b4221a"/>
<path d="M175.37 32.35L178.17 35.55L175.37 38.75L172.57 35.55Z" fill="#b4221a"/>
<path d="M174.02 28.69L176.82 31.89L174.02 35.09L171.22 31.89Z" fill="#b4221a"/>
<path d="M172.67 25.02L175.47 28.22L172.67 31.42L169.87 28.22Z" fill="#b4221a"/>
<path d="M171.32 21.36L174.12 24.56L171.32 27.76L168.52 24.56Z" fill="#b4221a"/>
<path d="M169.95 17.69L172.75 20.89L169.95 24.09L167.15 20.89Z" fill="#b4221a"/>
<path d="M168.41 14.03L171.21 17.23L168.41 20.43L165.61 17.23Z" fill="#b4221a"/>
<path d="M166.88 10.36L169.68 13.56L166.88 16.76L164.08 13.56Z" fill="#b4221a"/>
<path d="M165.35 6.70L168.15 9.90L165.35 13.10L162.55 9.90Z" fill="#b4221a"/>
<path d="M163.81 3.03L166.61 6.23L163.81 9.43L161.01 6.23Z" fill="#b4221a"/>
<rect x="42.20" y="237.13" width="4.6" height="133.77" fill="#6a1c14"/>
<polyline points="44.50,369.07 44.50,365.40 44.50,361.74 44.50,358.07 44.50,354.41 44.50,350.74 44.50,347.08 44.50,343.41 44.50,339.75 44.50,336.08 44.50,332.42 44.50,328.75 44.50,325.09 44.50,321.42 44.50,317.76 44.50,314.09 44.50,310.43 44.50,306.76 44.50,303.10 44.50,299.43 44.50,295.77 44.50,292.10 44.50,288.44 44.50,284.77 44.50,281.11 44.50,277.44 44.50,273.78 44.50,270.11 44.50,266.45 44.50,262.78 44.50,259.12 44.50,255.45 44.50,251.79 44.50,248.12 44.50,244.46 44.50,240.79 44.50,237.13 44.60,233.46 46.50,229.80 52.70,226.13 62.20,222.47 75.80,218.80 92.70,215.14 109.40,211.47 126.10,207.81 141.80,204.14 155.00,200.48 164.30,196.81 170.30,193.15 177.70,189.48 184.10,185.82 190.60,182.15 195.20,178.49 198.80,174.82 201.60,171.16 203.80,167.49 205.70,163.83 206.90,160.16 207.76,156.50 208.29,152.83 208.77,149.17 209.50,145.50 210.32,141.84 211.16,138.17 211.20,134.51 211.20,130.84 211.17,127.18 211.11,123.51 210.95,119.85 210.78,116.18 210.61,112.52 210.25,108.85 209.87,105.19 209.48,101.52 208.56,97.86 207.65,94.19 206.73,90.53 205.78,86.86 204.83,83.20 203.89,79.53 203.03,75.87 202.16,72.20 200.48,68.54 198.80,64.87 197.13,61.21 195.50,57.54 193.87,53.88 192.27,50.21 190.81,46.55 189.35,42.88 187.85,39.22 186.23,35.55 184.60,31.89 182.98,28.22 181.36,24.56 179.53,20.89 176.68,17.23 173.83,13.56 170.98,9.90 168.13,6.23" fill="none" stroke="#707070" stroke-width="0.7"/>
<path d="M44.50 371.53L47.15 367.43L41.85 367.43Z" fill="#000000"/>
<path d="M44.50 367.86L47.15 363.76L41.85 363.76Z" fill="#000000"/>
<path d="M44.50 364.20L47.15 360.10L41.85 360.10Z" fill="#000000"/>
<path d="M44.50 360.53L47.15 356.43L41.85 356.43Z" fill="#000000"/>
<path d="M44.50 356.87L47.15 352.77L41.85 352.77Z" fill="#000000"/>
<path d="M44.50 353.20L47.15 349.10L41.85 349.10Z" fill="#000000"/>
<path d="M44.50 349.54L47.15 345.44L41.85 345.44Z" fill="#000000"/>
<path d="M44.50 345.87L47.15 341.77L41.85 341.77Z" fill="#000000"/>
<path d="M44.50 342.21L47.15 338.11L41.85 338.11Z" fill="#000000"/>
<path d="M44.50 338.54L47.15 334.44L41.85 334.44Z" fill="#000000"/>
<path d="M44.50 334.88L47.15 330.78L41.85 330.78Z" fill="#000000"/>
<path d="M44.50 331.21L47.15 327.11L41.85 327.11Z" fill="#000000"/>
<path d="M44.50 327.55L47.15 323.45L41.85 323.45Z" fill="#000000"/>
<path d="M44.50 323.88L47.15 319.78L41.85 319.78Z" fill="#000000"/>
<path d="M44.50 320.22L47.15 316.12L41.85 316.12Z" fill="#000000"/>
<path d="M44.50 316.55L47.15 312.45L41.85 312.45Z" fill="#000000"/>
<path d="M44.50 312.89L47.15 308.79L41.85 308.79Z" fill="#000000"/>
<path d="M44.50 309.22L47.15 305.12L41.85 305.12Z" fill="#000000"/>
<path d="M44.50 305.56L47.15 301.46L41.85 301.46Z" fill="#000000"/>
<path d="M44.50 301.89L47.15 297.79L41.85 297.79Z" fill="#000000"/>
<path d="M44.50 298.23L47.15 294.13L41.85 294.13Z" fill="#000000"/>
<path d="M44.50 294.56L47.15 290.46L41.85 290.46Z" fill="#000000"/>
<path d="M44.50 290.90L47.15 286.80L41.85 286.80Z" fill="#000000"/>
<path d="M44.50 287.23L47.15 283.13L41.85 283.13Z" fill="#000000"/>
<path d="M44.50 283.57L47.15 279.47L41.85 279.47Z" fill="#000000"/>
<path d="M44.50 279.90L47.15 275.80L41.85 275.80Z" fill="#000000"/>
<path d="M44.50 276.24L47.15 272.14L41.85 272.14Z" fill="#000000"/>
<path d="M44.50 272.57L47.15 268.47L41.85 268.47Z" fill="#000000"/>
<path d="M44.50 268.91L47.15 264.81L41.85 264.81Z" fill="#000000"/>
<path d="M44.50 265.24L47.15 261.14L41.85 261.14Z" fill="#000000"/>
<path d="M44.50 261.58L47.15 257.48L41.85 257.48Z" fill="#000000"/>
<path d="M44.50 257.91L47.15 253.81L41.85 253.81Z" fill="#000000"/>
<path d="M44.50 254.25L47.15 250.15L41.85 250.15Z" fill="#000000"/>
<path d="M44.50 250.58L47.15 246.48L41.85 246.48Z" fill="#000000"/>
<path d="M44.50 246.92L47.15 242.82L41.85 242.82Z" fill="#000000"/>
<path d="M44.50 243.25L47.15 239.15L41.85 239.15Z" fill="#000000"/>
<path d="M44.50 239.59L47.15 235.49L41.85 235.49Z" fill="#000000"/>
<path d="M44.60 235.92L47.25 231.82L41.95 231.82Z" fill="#000000"/>
<path d="M46.50 232.26L49.15 228.16L43.85 228.16Z" fill="#000000"/>
<path d="M52.70 228.59L55.35 224.49L50.05 224.49Z" fill="#000000"/>
<path d="M62.20 224.93L64.85 220.83L59.55 220.83Z" fill="#000000"/>
<path d="M75.80 221.26L78.45 217.16L73.15 217.16Z" fill="#000000"/>
<path d="M92.70 217.60L95.35 213.50L90.05 213.50Z" fill="#000000"/>
<path d="M109.40 213.93L112.05 209.83L106.75 209.83Z" fill="#000000"/>
<path d="M126.10 210.27L128.75 206.17L123.45 206.17Z" fill="#000000"/>
<path d="M141.80 206.60L144.45 202.50L139.15 202.50Z" fill="#000000"/>
<path d="M155.00 202.94L157.65 198.84L152.35 198.84Z" fill="#000000"/>
<path d="M164.30 199.27L166.95 195.17L161.65 195.17Z" fill="#000000"/>
<path d="M170.30 195.61L172.95 191.51L167.65 191.51Z" fill="#000000"/>
<path d="M177.70 191.94L180.35 187.84L175.05 187.84Z" fill="#000000"/>
<path d="M184.10 188.28L186.75 184.18L181.45 184.18Z" fill="#000000"/>
<path d="M190.60 184.61L193.25 180.51L187.95 180.51Z" fill="#000000"/>
<path d="M195.20 180.95L197.85 176.85L192.55 176.85Z" fill="#000000"/>
<path d="M198.80 177.28L201.45 173.18L196.15 173.18Z" fill="#000000"/>
<path d="M201.60 173.62L204.25 169.52L198.95 169.52Z" fill="#000000"/>
<path d="M203.80 169.95L206.45 165.85L201.15 165.85Z" fill="#000000"/>
<path d="M205.70 166.29L208.35 162.19L203.05 162.19Z" fill="#000000"/>
<path d="M206.90 162.62L209.55 158.52L204.25 158.52Z" fill="#000000"/>
<path d="M207.76 158.96L210.41 154.86L205.11 154.86Z" fill="#000000"/>
<path d="M208.29 155.29L210.94 151.19L205.64 151.19Z" fill="#000000"/>
<path d="M208.77 151.63L211.42 147.53L206.12 147.53Z" fill="#000000"/>
<path d="M209.50 147.96L212.15 143.86L206.85 143.86Z" fill="#000000"/>
<path d="M210.32 144.30L212.97 140.20L207.67 140.20Z" fill="#000000"/>
<path d="M211.16 140.63L213.81 136.53L208.51 136.53Z" fill="#000000"/>
<path d="M211.20 136.97L213.85 132.87L208.55 132.87Z" fill="#000000"/>
<path d="M211.20 133.30L213.85 129.20L208.55 129.20Z" fill="#000000"/>
<path d="M211.17 129.64L213.82 125.54L208.52 125.54Z" fill="#000000"/>
<path d="M211.11 125.97L213.76 121.87L208.46 121.87Z" fill="#000000"/>
<path d="M210.95 122.31L213.60 118.21L208.30 118.21Z" fill="#000000"/>
<path d="M210.78 118.64L213.43 114.54L208.13 114.54Z" fill="#000000"/>
<path d="M210.61 114.98L213.26 110.88L207.96 110.88Z" fill="#000000"/>
<path d="M210.25 111.31L212.90 107.21L207.60 107.21Z" fill="#000000"/>
<path d="M209.87 107.65L212.52 103.55L207.22 103.55Z" fill="#000000"/>
<path d="M209.48 103.98L212.13 99.88L206.83 99.88Z" fill="#000000"/>
<path d="M208.56 100.32L211.21 96.22L205.91 96.22Z" fill="#000000"/>
<path d="M207.65 96.65L210.30 92.55L205.00 92.55Z" fill="#000000"/>
<path d="M206.73 92.99L209.38 88.89L204.08 88.89Z" fill="#000000"/>
<path d="M205.78 89.32L208.43 85.22L203.13 85.22Z" fill="#000000"/>
<path d="M204.83 85.66L207.48 81.56L202.18 81.56Z" fill="#000000"/>
<path d="M203.89 81.99L206.54 77.89L201.24 77.89Z" fill="#000000"/>
<path d="M203.03 78.33L205.68 74.23L200.38 74.23Z" fill="#000000"/>
<path d="M202.16 74.66L204.81 70.56L199.51 70.56Z" fill="#000000"/>
<path d="M200.48 71.00L203.13 66.90L197.83 66.90Z" fill="#000000"/>
<path d="M198.80 67.33L201.45 63.23L196.15 63.23Z" fill="#000000"/>
<path d="M197.13 63.67L199.78 59.57L194.48 59.57Z" fill="#000000"/>
<path d="M195.50 60.00L198.15 55.90L192.85 55.90Z" fill="#000000"/>
<path d="M193.87 56.34L196.52 52.24L191.22 52.24Z" fill="#000000"/>
<path d="M192.27 52.67L194.92 48.57L189.62 48.57Z" fill="#000000"/>
<path d="M190.81 49.01L193.46 44.91L188.16 44.91Z" fill="#000000"/>
<path d="M189.35 45.34L192.00 41.24L186.70 41.24Z" fill="#000000"/>
<path d="M187.85 41.68L190.50 37.58L185.20 37.58Z" fill="#000000"/>
<path d="M186.23 38.01L188.88 33.91L183.58 33.91Z" fill="#000000"/>
<path d="M184.60 34.35L187.25 30.25L181.95 30.25Z" fill="#000000"/>
<path d="M182.98 30.68L185.63 26.58L180.33 26.58Z" fill="#000000"/>
<path d="M181.36 27.02L184.01 22.92L178.71 22.92Z" fill="#000000"/>
<path d="M179.53 23.35L182.18 19.25L176.88 19.25Z" fill="#000000"/>
<path d="M176.68 19.69L179.33 15.59L174.03 15.59Z" fill="#000000"/>
<path d="M173.83 16.02L176.48 11.92L171.18 11.92Z" fill="#000000"/>
<path d="M170.98 12.36L173.63 8.26L168.33 8.26Z" fill="#000000"/>
<path d="M168.13 8.69L170.78 4.59L165.48 4.59Z" fill="#000000"/>
<polyline points="349.40,369.07 349.56,365.40 349.71,361.74 349.87,358.07 350.03,354.41 350.18,350.74 350.32,347.08 350.39,343.41 350.45,339.75 350.56,336.08 350.73,332.42 350.90,328.75 351.08,325.09 351.29,321.42 351.49,317.76 351.68,314.09 351.85,310.43 352.02,306.76 352.10,303.10 352.10,299.43 352.22,295.77 352.42,292.10 352.63,288.44 352.83,284.77 353.14,281.11 353.50,277.44 353.86,273.78 354.22,270.11 354.59,266.45 354.95,262.78 355.31,259.12 355.51,255.45 355.73,251.79 356.09,248.12 356.46,244.46 356.82,240.79 357.19,237.13 357.59,233.46 358.23,229.80 358.86,226.13 358.99,222.47 359.10,218.80 359.20,215.14 359.20,211.47 359.20,207.81 359.20,204.14 359.18,200.48 359.06,196.81 358.93,193.15 358.90,189.48 358.90,185.82 358.90,182.15 359.30,178.49 359.45,174.82 359.04,171.16 358.69,167.49 358.35,163.83 358.02,160.16 357.89,156.50 357.77,152.83 357.65,149.17 357.53,145.50 357.41,141.84 357.32,138.17 357.24,134.51 357.15,130.84 357.07,127.18 356.98,123.51 356.90,119.85 356.83,116.18 356.76,112.52 356.69,108.85 356.62,105.19 356.55,101.52 356.48,97.86 356.41,94.19 356.34,90.53 356.27,86.86 356.20,83.20 356.17,79.53 356.13,75.87 356.09,72.20 356.06,68.54 356.02,64.87 355.98,61.21 355.95,57.54 355.91,53.88 355.87,50.21 355.84,46.55 355.80,42.88 355.72,39.22 355.64,35.55 355.56,31.89 355.48,28.22 355.40,24.56 355.32,20.89 355.24,17.23 355.16,13.56 355.08,9.90 355.00,6.23" fill="none" stroke="#5a48e0" stroke-width="0.7"/>
<circle cx="349.40" cy="369.07" r="1.7" fill="#2800b0"/>
<circle cx="349.56" cy="365.40" r="1.7" fill="#2800b0"/>
<circle cx="349.71" cy="361.74" r="1.7" fill="#2800b0"/>
<circle cx="349.87" cy="358.07" r="1.7" fill="#2800b0"/>
<circle cx="350.03" cy="354.41" r="1.7" fill="#2800b0"/>
<circle cx="350.18" cy="350.74" r="1.7" fill="#2800b0"/>
<circle cx="350.32" cy="347.08" r="1.7" fill="#2800b0"/>
<circle cx="350.39" cy="343.41" r="1.7" fill="#2800b0"/>
<circle cx="350.45" cy="339.75" r="1.7" fill="#2800b0"/>
<circle cx="350.56" cy="336.08" r="1.7" fill="#2800b0"/>
<circle cx="350.73" cy="332.42" r="1.7" fill="#2800b0"/>
<circle cx="350.90" cy="328.75" r="1.7" fill="#2800b0"/>
<circle cx="351.08" cy="325.09" r="1.7" fill="#2800b0"/>
<circle cx="351.29" cy="321.42" r="1.7" fill="#2800b0"/>
<circle cx="351.49" cy="317.76" r="1.7" fill="#2800b0"/>
<circle cx="351.68" cy="314.09" r="1.7" fill="#2800b0"/>
<circle cx="351.85" cy="310.43" r="1.7" fill="#2800b0"/>
<circle cx="352.02" cy="306.76" r="1.7" fill="#2800b0"/>
<circle cx="352.10" cy="303.10" r="1.7" fill="#2800b0"/>
<circle cx="352.10" cy="299.43" r="1.7" fill="#2800b0"/>
<circle cx="352.22" cy="295.77" r="1.7" fill="#2800b0"/>
<circle cx="352.42" cy="292.10" r="1.7" fill="#2800b0"/>
<circle cx="352.63" cy="288.44" r="1.7" fill="#2800b0"/>
<circle cx="352.83" cy="284.77" r="1.7" fill="#2800b0"/>
<circle cx="353.14" cy="281.11" r="1.7" fill="#2800b0"/>
<circle cx="353.50" cy="277.44" r="1.7" fill="#2800b0"/>
<circle cx="353.86" cy="273.78" r="1.7" fill="#2800b0"/>
<circle cx="354.22" cy="270.11" r="1.7" fill="#2800b0"/>
<circle cx="354.59" cy="266.45" r="1.7" fill="#2800b0"/>
<circle cx="354.95" cy="262.78" r="1.7" fill="#2800b0"/>
<circle cx="355.31" cy="259.12" r="1.7" fill="#2800b0"/>
<circle cx="355.51" cy="255.45" r="1.7" fill="#2800b0"/>
<circle cx="355.73" cy="251.79" r="1.7" fill="#2800b0"/>
<circle cx="356.09" cy="248.12" r="1.7" fill="#2800b0"/>
<circle cx="356.46" cy="244.46" r="1.7" fill="#2800b0"/>
<circle cx="356.82" cy="240.79" r="1.7" fill="#2800b0"/>
<circle cx="357.19" cy="237.13" r="1.7" fill="#2800b0"/>
<circle cx="357.59" cy="233.46" r="1.7" fill="#2800b0"/>
<circle cx="358.23" cy="229.80" r="1.7" fill="#2800b0"/>
<circle cx="358.86" cy="226.13" r="1.7" fill="#2800b0"/>
<circle cx="358.99" cy="222.47" r="1.7" fill="#2800b0"/>
<circle cx="359.10" cy="218.80" r="1.7" fill="#2800b0"/>
<circle cx="359.20" cy="215.14" r="1.7" fill="#2800b0"/>
<circle cx="359.20" cy="211.47" r="1.7" fill="#2800b0"/>
<circle cx="359.20" cy="207.81" r="1.7" fill="#2800b0"/>
<circle cx="359.20" cy="204.14" r="1.7" fill="#2800b0"/>
<circle cx="359.18" cy="200.48" r="1.7" fill="#2800b0"/>
<circle cx="359.06" cy="196.81" r="1.7" fill="#2800b0"/>
<circle cx="358.93" cy="193.15" r="1.7" fill="#2800b0"/>
<circle cx="358.90" cy="189.48" r="1.7" fill="#2800b0"/>
<circle cx="358.90" cy="185.82" r="1.7" fill="#2800b0"/>
<circle cx="358.90" cy="182.15" r="1.7" fill="#2800b0"/>
<circle cx="359.30" cy="178.49" r="1.7" fill="#2800b0"/>
<circle cx="359.45" cy="174.82" r="1.7" fill="#2800b0"/>
<circle cx="359.04" cy="171.16" r="1.7" fill="#2800b0"/>
<circle cx="358.69" cy="167.49" r="1.7" fill="#2800b0"/>
<circle cx="358.35" cy="163.83" r="1.7" fill="#2800b0"/>
<circle cx="358.02" cy="160.16" r="1.7" fill="#2800b0"/>
<circle cx="357.89" cy="156.50" r="1.7" fill="#2800b0"/>
<circle cx="357.77" cy="152.83" r="1.7" fill="#2800b0"/>
<circle cx="357.65" cy="149.17" r="1.7" fill="#2800b0"/>
<circle cx="357.53" cy="145.50" r="1.7" fill="#2800b0"/>
<circle cx="357.41" cy="141.84" r="1.7" fill="#2800b0"/>
<circle cx="357.32" cy="138.17" r="1.7" fill="#2800b0"/>
<circle cx="357.24" cy="134.51" r="1.7" fill="#2800b0"/>
<circle cx="357.15" cy="130.84" r="1.7" fill="#2800b0"/>
<circle cx="357.07" cy="127.18" r="1.7" fill="#2800b0"/>
<circle cx="356.98" cy="123.51" r="1.7" fill="#2800b0"/>
<circle cx="356.90" cy="119.85" r="1.7" fill="#2800b0"/>
<circle cx="356.83" cy="116.18" r="1.7" fill="#2800b0"/>
<circle cx="356.76" cy="112.52" r="1.7" fill="#2800b0"/>
<circle cx="356.69" cy="108.85" r="1.7" fill="#2800b0"/>
<circle cx="356.62" cy="105.19" r="1.7" fill="#2800b0"/>
<circle cx="356.55" cy="101.52" r="1.7" fill="#2800b0"/>
<circle cx="356.48" cy="97.86" r="1.7" fill="#2800b0"/>
<circle cx="356.41" cy="94.19" r="1.7" fill="#2800b0"/>
<circle cx="356.34" cy="90.53" r="1.7" fill="#2800b0"/>
<circle cx="356.27" cy="86.86" r="1.7" fill="#2800b0"/>
<circle cx="356.20" cy="83.20" r="1.7" fill="#2800b0"/>
<circle cx="356.17" cy="79.53" r="1.7" fill="#2800b0"/>
<circle cx="356.13" cy="75.87" r="1.7" fill="#2800b0"/>
<circle cx="356.09" cy="72.20" r="1.7" fill="#2800b0"/>
<circle cx="356.06" cy="68.54" r="1.7" fill="#2800b0"/>
<circle cx="356.02" cy="64.87" r="1.7" fill="#2800b0"/>
<circle cx="355.98" cy="61.21" r="1.7" fill="#2800b0"/>
<circle cx="355.95" cy="57.54" r="1.7" fill="#2800b0"/>
<circle cx="355.91" cy="53.88" r="1.7" fill="#2800b0"/>
<circle cx="355.87" cy="50.21" r="1.7" fill="#2800b0"/>
<circle cx="355.84" cy="46.55" r="1.7" fill="#2800b0"/>
<circle cx="355.80" cy="42.88" r="1.7" fill="#2800b0"/>
<circle cx="355.72" cy="39.22" r="1.7" fill="#2800b0"/>
<circle cx="355.64" cy="35.55" r="1.7" fill="#2800b0"/>
<circle cx="355.56" cy="31.89" r="1.7" fill="#2800b0"/>
<circle cx="355.48" cy="28.22" r="1.7" fill="#2800b0"/>
<circle cx="355.40" cy="24.56" r="1.7" fill="#2800b0"/>
<circle cx="355.32" cy="20.89" r="1.7" fill="#2800b0"/>
<circle cx="355.24" cy="17.23" r="1.7" fill="#2800b0"/>
<circle cx="355.16" cy="13.56" r="1.7" fill="#2800b0"/>
<circle cx="355.08" cy="9.90" r="1.7" fill="#2800b0"/>
<circle cx="355.00" cy="6.23" r="1.7" fill="#2800b0"/>
<polyline points="338.50,369.07 338.50,365.40 338.50,361.74 338.50,358.07 338.50,354.41 338.50,350.74 338.50,347.08 338.50,343.41 338.50,339.75 338.50,336.08 338.50,332.42 338.50,328.75 338.50,325.09 338.50,321.42 338.50,317.76 338.50,314.09 338.50,310.43 338.50,306.76 338.50,303.10 338.50,299.43 338.50,295.77 338.50,292.10 338.50,288.44 338.50,284.77 338.50,281.11 338.50,277.44 338.50,273.78 338.50,270.11 338.50,266.45 338.50,262.78 338.50,259.12 338.50,255.45 338.50,251.79 338.50,248.12 338.50,244.46 338.50,240.79 338.50,237.13 338.50,233.46 338.50,229.80 338.50,226.13 339.00,222.47 340.00,218.80 342.20,215.14 346.50,211.47 351.90,207.81 357.80,204.14 364.20,200.48 368.60,196.81 372.50,193.15 374.80,189.48 375.60,185.82 375.80,182.15 375.60,178.49 375.60,174.82 375.91,171.16 376.22,167.49 376.11,163.83 375.85,160.16 375.55,156.50 375.18,152.83 374.82,149.17 374.33,145.50 373.85,141.84 373.46,138.17 373.08,134.51 372.71,130.84 372.33,127.18 371.96,123.51 371.59,119.85 371.36,116.18 371.13,112.52 370.91,108.85 370.68,105.19 370.45,101.52 370.22,97.86 370.00,94.19 369.77,90.53 369.54,86.86 369.31,83.20 369.14,79.53 368.97,75.87 368.80,72.20 368.63,68.54 368.46,64.87 368.29,61.21 368.12,57.54 367.95,53.88 367.78,50.21 367.60,46.55 367.43,42.88 367.21,39.22 366.76,35.55 366.32,31.89 365.87,28.22 365.43,24.56 364.98,20.89 364.54,17.23 364.09,13.56 363.65,9.90 363.20,6.23" fill="none" stroke="#a8e898" stroke-width="0.7"/>
<rect x="337.30" y="220.77" width="3.4" height="3.4" fill="#62cc38"/>
<rect x="338.30" y="217.10" width="3.4" height="3.4" fill="#62cc38"/>
<rect x="340.50" y="213.44" width="3.4" height="3.4" fill="#62cc38"/>
<rect x="344.80" y="209.77" width="3.4" height="3.4" fill="#62cc38"/>
<rect x="350.20" y="206.11" width="3.4" height="3.4" fill="#62cc38"/>
<rect x="356.10" y="202.44" width="3.4" height="3.4" fill="#62cc38"/>
<rect x="362.50" y="198.78" width="3.4" height="3.4" fill="#62cc38"/>
<rect x="366.90" y="195.11" width="3.4" height="3.4" fill="#62cc38"/>
<rect x="370.80" y="191.45" width="3.4" height="3.4" fill="#62cc38"/>
<rect x="373.10" y="187.78" width="3.4" height="3.4" fill="#62cc38"/>
<rect x="373.90" y="184.12" width="3.4" height="3.4" fill="#62cc38"/>
<rect x="374.10" y="180.45" width="3.4" height="3.4" fill="#62cc38"/>
<rect x="373.90" y="176.79" width="3.4" height="3.4" fill="#62cc38"/>
<rect x="373.90" y="173.12" width="3.4" height="3.4" fill="#62cc38"/>
<rect x="374.21" y="169.46" width="3.4" height="3.4" fill="#62cc38"/>
<rect x="374.52" y="165.79" width="3.4" height="3.4" fill="#62cc38"/>
<rect x="374.41" y="162.13" width="3.4" height="3.4" fill="#62cc38"/>
<rect x="374.15" y="158.46" width="3.4" height="3.4" fill="#62cc38"/>
<rect x="373.85" y="154.80" width="3.4" height="3.4" fill="#62cc38"/>
<rect x="373.48" y="151.13" width="3.4" height="3.4" fill="#62cc38"/>
<rect x="373.12" y="147.47" width="3.4" height="3.4" fill="#62cc38"/>
<rect x="372.63" y="143.80" width="3.4" height="3.4" fill="#62cc38"/>
<rect x="372.15" y="140.14" width="3.4" height="3.4" fill="#62cc38"/>
<rect x="371.76" y="136.47" width="3.4" height="3.4" fill="#62cc38"/>
<rect x="371.38" y="132.81" width="3.4" height="3.4" fill="#62cc38"/>
<rect x="371.01" y="129.14" width="3.4" height="3.4" fill="#62cc38"/>
<rect x="370.63" y="125.48" width="3.4" height="3.4" fill="#62cc38"/>
<rect x="370.26" y="121.81" width="3.4" height="3.4" fill="#62cc38"/>
<rect x="369.89" y="118.15" width="3.4" height="3.4" fill="#62cc38"/>
<rect x="369.66" y="114.48" width="3.4" height="3.4" fill="#62cc38"/>
<rect x="369.43" y="110.82" width="3.4" height="3.4" fill="#62cc38"/>
<rect x="369.21" y="107.15" width="3.4" height="3.4" fill="#62cc38"/>
<rect x="368.98" y="103.49" width="3.4" height="3.4" fill="#62cc38"/>
<rect x="368.75" y="99.82" width="3.4" height="3.4" fill="#62cc38"/>
<rect x="368.52" y="96.16" width="3.4" height="3.4" fill="#62cc38"/>
<rect x="368.30" y="92.49" width="3.4" height="3.4" fill="#62cc38"/>
<rect x="368.07" y="88.83" width="3.4" height="3.4" fill="#62cc38"/>
<rect x="367.84" y="85.16" width="3.4" height="3.4" fill="#62cc38"/>
<rect x="367.61" y="81.50" width="3.4" height="3.4" fill="#62cc38"/>
<rect x="367.44" y="77.83" width="3.4" height="3.4" fill="#62cc38"/>
<rect x="367.27" y="74.17" width="3.4" height="3.4" fill="#62cc38"/>
<rect x="367.10" y="70.50" width="3.4" height="3.4" fill="#62cc38"/>
<rect x="366.93" y="66.84" width="3.4" height="3.4" fill="#62cc38"/>
<rect x="366.76" y="63.17" width="3.4" height="3.4" fill="#62cc38"/>
<rect x="366.59" y="59.51" width="3.4" height="3.4" fill="#62cc38"/>
<rect x="366.42" y="55.84" width="3.4" height="3.4" fill="#62cc38"/>
<rect x="366.25" y="52.18" width="3.4" height="3.4" fill="#62cc38"/>
<rect x="366.08" y="48.51" width="3.4" height="3.4" fill="#62cc38"/>
<rect x="365.90" y="44.85" width="3.4" height="3.4" fill="#62cc38"/>
<rect x="365.73" y="41.18" width="3.4" height="3.4" fill="#62cc38"/>
<rect x="365.51" y="37.52" width="3.4" height="3.4" fill="#62cc38"/>
<rect x="365.06" y="33.85" width="3.4" height="3.4" fill="#62cc38"/>
<rect x="364.62" y="30.19" width="3.4" height="3.4" fill="#62cc38"/>
<rect x="364.17" y="26.52" width="3.4" height="3.4" fill="#62cc38"/>
<rect x="363.73" y="22.86" width="3.4" height="3.4" fill="#62cc38"/>
<rect x="363.28" y="19.19" width="3.4" height="3.4" fill="#62cc38"/>
<rect x="362.84" y="15.53" width="3.4" height="3.4" fill="#62cc38"/>
<rect x="362.39" y="11.86" width="3.4" height="3.4" fill="#62cc38"/>
<rect x="361.95" y="8.20" width="3.4" height="3.4" fill="#62cc38"/>
<rect x="361.50" y="4.53" width="3.4" height="3.4" fill="#62cc38"/>
<polyline points="338.50,369.07 338.50,365.40 338.50,361.74 338.50,358.07 338.50,354.41 338.50,350.74 338.50,347.08 338.50,343.41 338.50,339.75 338.50,336.08 338.50,332.42 338.50,328.75 338.50,325.09 338.50,321.42 338.50,317.76 338.50,314.09 338.50,310.43 338.50,306.76 338.50,303.10 338.50,299.43 338.50,295.77 338.50,292.10 338.50,288.44 338.50,284.77 338.50,281.11 338.50,277.44 338.50,273.78 338.50,270.11 338.50,266.45 338.50,262.78 338.50,259.12 338.50,255.45 338.50,251.79 338.50,248.12 338.50,244.46 338.50,240.79 338.50,237.13 338.50,233.46 339.00,229.80 340.50,226.13 344.50,222.47 352.90,218.80 364.90,215.14 375.70,211.47 384.30,207.81 389.00,204.14 389.00,200.48 388.30,196.81 387.00,193.15 385.50,189.48 383.50,185.82 381.00,182.15 377.00,178.49 374.00,174.82 373.85,171.16 373.17,167.49 372.57,163.83 372.02,160.16 371.48,156.50 370.95,152.83 370.42,149.17 369.37,145.50 368.30,141.84 367.66,138.17 367.07,134.51 366.47,130.84 365.88,127.18 365.28,123.51 365.06,119.85 364.89,116.18 364.73,112.52 364.56,108.85 364.40,105.19 364.23,101.52 364.07,97.86 363.90,94.19 363.74,90.53 363.57,86.86 363.41,83.20 363.27,79.53 363.13,75.87 363.00,72.20 362.86,68.54 362.73,64.87 362.59,61.21 362.45,57.54 362.32,53.88 362.18,50.21 362.04,46.55 361.91,42.88 361.73,39.22 361.41,35.55 361.08,31.89 360.75,28.22 360.43,24.56 360.10,20.89 359.78,17.23 359.45,13.56 359.13,9.90 358.80,6.23" fill="none" stroke="#dcac72" stroke-width="0.7"/>
<path d="M339.00 227.40L341.60 231.40L336.40 231.40Z" fill="#c8893a"/>
<path d="M340.50 223.73L343.10 227.73L337.90 227.73Z" fill="#c8893a"/>
<path d="M344.50 220.07L347.10 224.07L341.90 224.07Z" fill="#c8893a"/>
<path d="M352.90 216.40L355.50 220.40L350.30 220.40Z" fill="#c8893a"/>
<path d="M364.90 212.74L367.50 216.74L362.30 216.74Z" fill="#c8893a"/>
<path d="M375.70 209.07L378.30 213.07L373.10 213.07Z" fill="#c8893a"/>
<path d="M384.30 205.41L386.90 209.41L381.70 209.41Z" fill="#c8893a"/>
<path d="M389.00 201.74L391.60 205.74L386.40 205.74Z" fill="#c8893a"/>
<path d="M389.00 198.08L391.60 202.08L386.40 202.08Z" fill="#c8893a"/>
<path d="M388.30 194.41L390.90 198.41L385.70 198.41Z" fill="#c8893a"/>
<path d="M387.00 190.75L389.60 194.75L384.40 194.75Z" fill="#c8893a"/>
<path d="M385.50 187.08L388.10 191.08L382.90 191.08Z" fill="#c8893a"/>
<path d="M383.50 183.42L386.10 187.42L380.90 187.42Z" fill="#c8893a"/>
<path d="M381.00 179.75L383.60 183.75L378.40 183.75Z" fill="#c8893a"/>
<path d="M377.00 176.09L379.60 180.09L374.40 180.09Z" fill="#c8893a"/>
<path d="M374.00 172.42L376.60 176.42L371.40 176.42Z" fill="#c8893a"/>
<path d="M373.85 168.76L376.45 172.76L371.25 172.76Z" fill="#c8893a"/>
<path d="M373.17 165.09L375.77 169.09L370.57 169.09Z" fill="#c8893a"/>
<path d="M372.57 161.43L375.17 165.43L369.97 165.43Z" fill="#c8893a"/>
<path d="M372.02 157.76L374.62 161.76L369.42 161.76Z" fill="#c8893a"/>
<path d="M371.48 154.10L374.08 158.10L368.88 158.10Z" fill="#c8893a"/>
<path d="M370.95 150.43L373.55 154.43L368.35 154.43Z" fill="#c8893a"/>
<path d="M370.42 146.77L373.02 150.77L367.82 150.77Z" fill="#c8893a"/>
<path d="M369.37 143.10L371.97 147.10L366.77 147.10Z" fill="#c8893a"/>
<path d="M368.30 139.44L370.90 143.44L365.70 143.44Z" fill="#c8893a"/>
<path d="M367.66 135.77L370.26 139.77L365.06 139.77Z" fill="#c8893a"/>
<path d="M367.07 132.11L369.67 136.11L364.47 136.11Z" fill="#c8893a"/>
<path d="M366.47 128.44L369.07 132.44L363.87 132.44Z" fill="#c8893a"/>
<path d="M365.88 124.78L368.48 128.78L363.28 128.78Z" fill="#c8893a"/>
<path d="M365.28 121.11L367.88 125.11L362.68 125.11Z" fill="#c8893a"/>
<path d="M365.06 117.45L367.66 121.45L362.46 121.45Z" fill="#c8893a"/>
<path d="M364.89 113.78L367.49 117.78L362.29 117.78Z" fill="#c8893a"/>
<path d="M364.73 110.12L367.33 114.12L362.13 114.12Z" fill="#c8893a"/>
<path d="M364.56 106.45L367.16 110.45L361.96 110.45Z" fill="#c8893a"/>
<path d="M364.40 102.79L367.00 106.79L361.80 106.79Z" fill="#c8893a"/>
<path d="M364.23 99.12L366.83 103.12L361.63 103.12Z" fill="#c8893a"/>
<path d="M364.07 95.46L366.67 99.46L361.47 99.46Z" fill="#c8893a"/>
<path d="M363.90 91.79L366.50 95.79L361.30 95.79Z" fill="#c8893a"/>
<path d="M363.74 88.13L366.34 92.13L361.14 92.13Z" fill="#c8893a"/>
<path d="M363.57 84.46L366.17 88.46L360.97 88.46Z" fill="#c8893a"/>
<path d="M363.41 80.80L366.01 84.80L360.81 84.80Z" fill="#c8893a"/>
<path d="M363.27 77.13L365.87 81.13L360.67 81.13Z" fill="#c8893a"/>
<path d="M363.13 73.47L365.73 77.47L360.53 77.47Z" fill="#c8893a"/>
<path d="M363.00 69.80L365.60 73.80L360.40 73.80Z" fill="#c8893a"/>
<path d="M362.86 66.14L365.46 70.14L360.26 70.14Z" fill="#c8893a"/>
<path d="M362.73 62.47L365.33 66.47L360.13 66.47Z" fill="#c8893a"/>
<path d="M362.59 58.81L365.19 62.81L359.99 62.81Z" fill="#c8893a"/>
<path d="M362.45 55.14L365.05 59.14L359.85 59.14Z" fill="#c8893a"/>
<path d="M362.32 51.48L364.92 55.48L359.72 55.48Z" fill="#c8893a"/>
<path d="M362.18 47.81L364.78 51.81L359.58 51.81Z" fill="#c8893a"/>
<path d="M362.04 44.15L364.64 48.15L359.44 48.15Z" fill="#c8893a"/>
<path d="M361.91 40.48L364.51 44.48L359.31 44.48Z" fill="#c8893a"/>
<path d="M361.73 36.82L364.33 40.82L359.13 40.82Z" fill="#c8893a"/>
<path d="M361.41 33.15L364.01 37.15L358.81 37.15Z" fill="#c8893a"/>
<path d="M361.08 29.49L363.68 33.49L358.48 33.49Z" fill="#c8893a"/>
<path d="M360.75 25.82L363.35 29.82L358.15 29.82Z" fill="#c8893a"/>
<path d="M360.43 22.16L363.03 26.16L357.83 26.16Z" fill="#c8893a"/>
<path d="M360.10 18.49L362.70 22.49L357.50 22.49Z" fill="#c8893a"/>
<path d="M359.78 14.83L362.38 18.83L357.18 18.83Z" fill="#c8893a"/>
<path d="M359.45 11.16L362.05 15.16L356.85 15.16Z" fill="#c8893a"/>
<path d="M359.13 7.50L361.73 11.50L356.53 11.50Z" fill="#c8893a"/>
<path d="M358.80 3.83L361.40 7.83L356.20 7.83Z" fill="#c8893a"/>
<polyline points="338.50,369.07 338.50,365.40 338.50,361.74 338.50,358.07 338.50,354.41 338.50,350.74 338.50,347.08 338.50,343.41 338.50,339.75 338.50,336.08 338.50,332.42 338.50,328.75 338.50,325.09 338.50,321.42 338.50,317.76 338.50,314.09 338.50,310.43 338.50,306.76 338.50,303.10 338.50,299.43 338.50,295.77 338.50,292.10 338.50,288.44 338.50,284.77 338.50,281.11 338.50,277.44 338.50,273.78 338.50,270.11 338.50,266.45 338.50,262.78 338.50,259.12 338.50,255.45 338.50,251.79 338.50,248.12 338.50,244.46 338.50,240.79 338.50,237.13 338.50,233.46 339.00,229.80 341.00,226.13 350.00,222.47 369.30,218.80 388.60,215.14 405.30,211.47 416.60,207.81 419.30,204.14 413.40,200.48 406.00,196.81 399.90,193.15 394.00,189.48 389.70,185.82 384.80,182.15 381.10,178.49 377.50,174.82 373.50,171.16 371.50,167.49 369.76,163.83 368.40,160.16 367.15,156.50 366.05,152.83 364.95,149.17 364.03,145.50 363.11,141.84 362.82,138.17 362.53,134.51 362.25,130.84 361.96,127.18 361.67,123.51 361.39,119.85 361.17,116.18 360.96,112.52 360.74,108.85 360.52,105.19 360.30,101.52 360.08,97.86 359.87,94.19 359.65,90.53 359.43,86.86 359.21,83.20 358.94,79.53 358.67,75.87 358.40,72.20 358.12,68.54 357.85,64.87 357.58,61.21 357.31,57.54 357.03,53.88 356.76,50.21 356.49,46.55 356.21,42.88 355.95,39.22 355.72,35.55 355.50,31.89 355.27,28.22 355.04,24.56 354.81,20.89 354.59,17.23 354.36,13.56 354.13,9.90 353.90,6.23" fill="none" stroke="#ecc8a0" stroke-width="0.7"/>
<path d="M339.00 227.40L341.50 231.40L336.50 231.40Z" fill="none" stroke="#dfb084" stroke-width="0.7"/>
<path d="M341.00 223.73L343.50 227.73L338.50 227.73Z" fill="none" stroke="#dfb084" stroke-width="0.7"/>
<path d="M350.00 220.07L352.50 224.07L347.50 224.07Z" fill="none" stroke="#dfb084" stroke-width="0.7"/>
<path d="M369.30 216.40L371.80 220.40L366.80 220.40Z" fill="none" stroke="#dfb084" stroke-width="0.7"/>
<path d="M388.60 212.74L391.10 216.74L386.10 216.74Z" fill="none" stroke="#dfb084" stroke-width="0.7"/>
<path d="M405.30 209.07L407.80 213.07L402.80 213.07Z" fill="none" stroke="#dfb084" stroke-width="0.7"/>
<path d="M416.60 205.41L419.10 209.41L414.10 209.41Z" fill="none" stroke="#dfb084" stroke-width="0.7"/>
<path d="M419.30 201.74L421.80 205.74L416.80 205.74Z" fill="none" stroke="#dfb084" stroke-width="0.7"/>
<path d="M413.40 198.08L415.90 202.08L410.90 202.08Z" fill="none" stroke="#dfb084" stroke-width="0.7"/>
<path d="M406.00 194.41L408.50 198.41L403.50 198.41Z" fill="none" stroke="#dfb084" stroke-width="0.7"/>
<path d="M399.90 190.75L402.40 194.75L397.40 194.75Z" fill="none" stroke="#dfb084" stroke-width="0.7"/>
<path d="M394.00 187.08L396.50 191.08L391.50 191.08Z" fill="none" stroke="#dfb084" stroke-width="0.7"/>
<path d="M389.70 183.42L392.20 187.42L387.20 187.42Z" fill="none" stroke="#dfb084" stroke-width="0.7"/>
<path d="M384.80 179.75L387.30 183.75L382.30 183.75Z" fill="none" stroke="#dfb084" stroke-width="0.7"/>
<path d="M381.10 176.09L383.60 180.09L378.60 180.09Z" fill="none" stroke="#dfb084" stroke-width="0.7"/>
<path d="M377.50 172.42L380.00 176.42L375.00 176.42Z" fill="none" stroke="#dfb084" stroke-width="0.7"/>
<path d="M373.50 168.76L376.00 172.76L371.00 172.76Z" fill="none" stroke="#dfb084" stroke-width="0.7"/>
<path d="M371.50 165.09L374.00 169.09L369.00 169.09Z" fill="none" stroke="#dfb084" stroke-width="0.7"/>
<path d="M369.76 161.43L372.26 165.43L367.26 165.43Z" fill="none" stroke="#dfb084" stroke-width="0.7"/>
<path d="M368.40 157.76L370.90 161.76L365.90 161.76Z" fill="none" stroke="#dfb084" stroke-width="0.7"/>
<path d="M367.15 154.10L369.65 158.10L364.65 158.10Z" fill="none" stroke="#dfb084" stroke-width="0.7"/>
<path d="M366.05 150.43L368.55 154.43L363.55 154.43Z" fill="none" stroke="#dfb084" stroke-width="0.7"/>
<path d="M364.95 146.77L367.45 150.77L362.45 150.77Z" fill="none" stroke="#dfb084" stroke-width="0.7"/>
<path d="M364.03 143.10L366.53 147.10L361.53 147.10Z" fill="none" stroke="#dfb084" stroke-width="0.7"/>
<path d="M363.11 139.44L365.61 143.44L360.61 143.44Z" fill="none" stroke="#dfb084" stroke-width="0.7"/>
<path d="M362.82 135.77L365.32 139.77L360.32 139.77Z" fill="none" stroke="#dfb084" stroke-width="0.7"/>
<path d="M362.53 132.11L365.03 136.11L360.03 136.11Z" fill="none" stroke="#dfb084" stroke-width="0.7"/>
<path d="M362.25 128.44L364.75 132.44L359.75 132.44Z" fill="none" stroke="#dfb084" stroke-width="0.7"/>
<path d="M361.96 124.78L364.46 128.78L359.46 128.78Z" fill="none" stroke="#dfb084" stroke-width="0.7"/>
<path d="M361.67 121.11L364.17 125.11L359.17 125.11Z" fill="none" stroke="#dfb084" stroke-width="0.7"/>
<path d="M361.39 117.45L363.89 121.45L358.89 121.45Z" fill="none" stroke="#dfb084" stroke-width="0.7"/>
<path d="M361.17 113.78L363.67 117.78L358.67 117.78Z" fill="none" stroke="#dfb084" stroke-width="0.7"/>
<path d="M360.96 110.12L363.46 114.12L358.46 114.12Z" fill="none" stroke="#dfb084" stroke-width="0.7"/>
<path d="M360.74 106.45L363.24 110.45L358.24 110.45Z" fill="none" stroke="#dfb084" stroke-width="0.7"/>
<path d="M360.52 102.79L363.02 106.79L358.02 106.79Z" fill="none" stroke="#dfb084" stroke-width="0.7"/>
<path d="M360.30 99.12L362.80 103.12L357.80 103.12Z" fill="none" stroke="#dfb084" stroke-width="0.7"/>
<path d="M360.08 95.46L362.58 99.46L357.58 99.46Z" fill="none" stroke="#dfb084" stroke-width="0.7"/>
<path d="M359.87 91.79L362.37 95.79L357.37 95.79Z" fill="none" stroke="#dfb084" stroke-width="0.7"/>
<path d="M359.65 88.13L362.15 92.13L357.15 92.13Z" fill="none" stroke="#dfb084" stroke-width="0.7"/>
<path d="M359.43 84.46L361.93 88.46L356.93 88.46Z" fill="none" stroke="#dfb084" stroke-width="0.7"/>
<path d="M359.21 80.80L361.71 84.80L356.71 84.80Z" fill="none" stroke="#dfb084" stroke-width="0.7"/>
<path d="M358.94 77.13L361.44 81.13L356.44 81.13Z" fill="none" stroke="#dfb084" stroke-width="0.7"/>
<path d="M358.67 73.47L361.17 77.47L356.17 77.47Z" fill="none" stroke="#dfb084" stroke-width="0.7"/>
<path d="M358.40 69.80L360.90 73.80L355.90 73.80Z" fill="none" stroke="#dfb084" stroke-width="0.7"/>
<path d="M358.12 66.14L360.62 70.14L355.62 70.14Z" fill="none" stroke="#dfb084" stroke-width="0.7"/>
<path d="M357.85 62.47L360.35 66.47L355.35 66.47Z" fill="none" stroke="#dfb084" stroke-width="0.7"/>
<path d="M357.58 58.81L360.08 62.81L355.08 62.81Z" fill="none" stroke="#dfb084" stroke-width="0.7"/>
<path d="M357.31 55.14L359.81 59.14L354.81 59.14Z" fill="none" stroke="#dfb084" stroke-width="0.7"/>
<path d="M357.03 51.48L359.53 55.48L354.53 55.48Z" fill="none" stroke="#dfb084" stroke-width="0.7"/>
<path d="M356.76 47.81L359.26 51.81L354.26 51.81Z" fill="none" stroke="#dfb084" stroke-width="0.7"/>
<path d="M356.49 44.15L358.99 48.15L353.99 48.15Z" fill="none" stroke="#dfb084" stroke-width="0.7"/>
<path d="M356.21 40.48L358.71 44.48L353.71 44.48Z" fill="none" stroke="#dfb084" stroke-width="0.7"/>
<path d="M355.95 36.82L358.45 40.82L353.45 40.82Z" fill="none" stroke="#dfb084" stroke-width="0.7"/>
<path d="M355.72 33.15L358.22 37.15L353.22 37.15Z" fill="none" stroke="#dfb084" stroke-width="0.7"/>
<path d="M355.50 29.49L358.00 33.49L353.00 33.49Z" fill="none" stroke="#dfb084" stroke-width="0.7"/>
<path d="M355.27 25.82L357.77 29.82L352.77 29.82Z" fill="none" stroke="#dfb084" stroke-width="0.7"/>
<path d="M355.04 22.16L357.54 26.16L352.54 26.16Z" fill="none" stroke="#dfb084" stroke-width="0.7"/>
<path d="M354.81 18.49L357.31 22.49L352.31 22.49Z" fill="none" stroke="#dfb084" stroke-width="0.7"/>
<path d="M354.59 14.83L357.09 18.83L352.09 18.83Z" fill="none" stroke="#dfb084" stroke-width="0.7"/>
<path d="M354.36 11.16L356.86 15.16L351.86 15.16Z" fill="none" stroke="#dfb084" stroke-width="0.7"/>
<path d="M354.13 7.50L356.63 11.50L351.63 11.50Z" fill="none" stroke="#dfb084" stroke-width="0.7"/>
<path d="M353.90 3.83L356.40 7.83L351.40 7.83Z" fill="none" stroke="#dfb084" stroke-width="0.7"/>
<polyline points="338.50,369.07 338.50,365.40 338.50,361.74 338.50,358.07 338.50,354.41 338.50,350.74 338.50,347.08 338.50,343.41 338.50,339.75 338.50,336.08 338.50,332.42 338.50,328.75 338.50,325.09 338.50,321.42 338.50,317.76 338.50,314.09 338.50,310.43 338.50,306.76 338.50,303.10 338.50,299.43 338.50,295.77 338.50,292.10 338.50,288.44 338.50,284.77 338.50,281.11 338.50,277.44 338.50,273.78 338.50,270.11 338.50,266.45 338.50,262.78 338.50,259.12 338.50,255.45 338.50,251.79 338.50,248.12 338.50,244.46 338.50,240.79 338.50,237.13 338.70,233.46 340.00,229.80 359.00,226.13 427.70,222.47 500.70,218.80 534.30,215.14 536.40,211.47 514.60,207.81 475.40,204.14 434.20,200.48 405.80,196.81 387.30,193.15 375.40,189.48 368.20,185.82 362.60,182.15 358.60,178.49 357.46,174.82 355.69,171.16 353.80,167.49 352.67,163.83 351.62,160.16 350.72,156.50 350.03,152.83 349.41,149.17 349.02,145.50 348.64,141.84 348.46,138.17 348.31,134.51 348.15,130.84 348.00,127.18 347.85,123.51 347.70,119.85 347.64,116.18 347.59,112.52 347.53,108.85 347.48,105.19 347.42,101.52 347.37,97.86 347.31,94.19 347.26,90.53 347.20,86.86 347.15,83.20 347.10,79.53 347.08,75.87 347.06,72.20 347.04,68.54 347.02,64.87 347.01,61.21 346.99,57.54 346.97,53.88 346.95,50.21 346.93,46.55 346.91,42.88 346.87,39.22 346.73,35.55 346.59,31.89 346.45,28.22 346.31,24.56 346.17,20.89 346.02,17.23 345.88,13.56 345.74,9.90 345.60,6.23" fill="none" stroke="#d4807a" stroke-width="0.7"/>
<path d="M338.70 230.26L341.50 233.46L338.70 236.66L335.90 233.46Z" fill="#b4221a"/>
<path d="M340.00 226.60L342.80 229.80L340.00 233.00L337.20 229.80Z" fill="#b4221a"/>
<path d="M359.00 222.93L361.80 226.13L359.00 229.33L356.20 226.13Z" fill="#b4221a"/>
<path d="M427.70 219.27L430.50 222.47L427.70 225.67L424.90 222.47Z" fill="#b4221a"/>
<path d="M500.70 215.60L503.50 218.80L500.70 222.00L497.90 218.80Z" fill="#b4221a"/>
<path d="M534.30 211.94L537.10 215.14L534.30 218.34L531.50 215.14Z" fill="#b4221a"/>
<path d="M536.40 208.27L539.20 211.47L536.40 214.67L533.60 211.47Z" fill="#b4221a"/>
<path d="M514.60 204.61L517.40 207.81L514.60 211.01L511.80 207.81Z" fill="#b4221a"/>
<path d="M475.40 200.94L478.20 204.14L475.40 207.34L472.60 204.14Z" fill="#b4221a"/>
<path d="M434.20 197.28L437.00 200.48L434.20 203.68L431.40 200.48Z" fill="#b4221a"/>
<path d="M405.80 193.61L408.60 196.81L405.80 200.01L403.00 196.81Z" fill="#b4221a"/>
<path d="M387.30 189.95L390.10 193.15L387.30 196.35L384.50 193.15Z" fill="#b4221a"/>
<path d="M375.40 186.28L378.20 189.48L375.40 192.68L372.60 189.48Z" fill="#b4221a"/>
<path d="M368.20 182.62L371.00 185.82L368.20 189.02L365.40 185.82Z" fill="#b4221a"/>
<path d="M362.60 178.95L365.40 182.15L362.60 185.35L359.80 182.15Z" fill="#b4221a"/>
<path d="M358.60 175.29L361.40 178.49L358.60 181.69L355.80 178.49Z" fill="#b4221a"/>
<path d="M357.46 171.62L360.26 174.82L357.46 178.02L354.66 174.82Z" fill="#b4221a"/>
<path d="M355.69 167.96L358.49 171.16L355.69 174.36L352.89 171.16Z" fill="#b4221a"/>
<path d="M353.80 164.29L356.60 167.49L353.80 170.69L351.00 167.49Z" fill="#b4221a"/>
<path d="M352.67 160.63L355.47 163.83L352.67 167.03L349.87 163.83Z" fill="#b4221a"/>
<path d="M351.62 156.96L354.42 160.16L351.62 163.36L348.82 160.16Z" fill="#b4221a"/>
<path d="M350.72 153.30L353.52 156.50L350.72 159.70L347.92 156.50Z" fill="#b4221a"/>
<path d="M350.03 149.63L352.83 152.83L350.03 156.03L347.23 152.83Z" fill="#b4221a"/>
<path d="M349.41 145.97L352.21 149.17L349.41 152.37L346.61 149.17Z" fill="#b4221a"/>
<path d="M349.02 142.30L351.82 145.50L349.02 148.70L346.22 145.50Z" fill="#b4221a"/>
<path d="M348.64 138.64L351.44 141.84L348.64 145.04L345.84 141.84Z" fill="#b4221a"/>
<path d="M348.46 134.97L351.26 138.17L348.46 141.37L345.66 138.17Z" fill="#b4221a"/>
<path d="M348.31 131.31L351.11 134.51L348.31 137.71L345.51 134.51Z" fill="#b4221a"/>
<path d="M348.15 127.64L350.95 130.84L348.15 134.04L345.35 130.84Z" fill="#b4221a"/>
<path d="M348.00 123.98L350.80 127.18L348.00 130.38L345.20 127.18Z" fill="#b4221a"/>
<path d="M347.85 120.31L350.65 123.51L347.85 126.71L345.05 123.51Z" fill="#b4221a"/>
<path d="M347.70 116.65L350.50 119.85L347.70 123.05L344.90 119.85Z" fill="#b4221a"/>
<path d="M347.64 112.98L350.44 116.18L347.64 119.38L344.84 116.18Z" fill="#b4221a"/>
<path d="M347.59 109.32L350.39 112.52L347.59 115.72L344.79 112.52Z" fill="#b4221a"/>
<path d="M347.53 105.65L350.33 108.85L347.53 112.05L344.73 108.85Z" fill="#b4221a"/>
<path d="M347.48 101.99L350.28 105.19L347.48 108.39L344.68 105.19Z" fill="#b4221a"/>
<path d="M347.42 98.32L350.22 101.52L347.42 104.72L344.62 101.52Z" fill="#b4221a"/>
<path d="M347.37 94.66L350.17 97.86L347.37 101.06L344.57 97.86Z" fill="#b4221a"/>
<path d="M347.31 90.99L350.11 94.19L347.31 97.39L344.51 94.19Z" fill="#b4221a"/>
<path d="M347.26 87.33L350.06 90.53L347.26 93.73L344.46 90.53Z" fill="#b4221a"/>
<path d="M347.20 83.66L350.00 86.86L347.20 90.06L344.40 86.86Z" fill="#b4221a"/>
<path d="M347.15 80.00L349.95 83.20L347.15 86.40L344.35 83.20Z" fill="#b4221a"/>
<path d="M347.10 76.33L349.90 79.53L347.10 82.73L344.30 79.53Z" fill="#b4221a"/>
<path d="M347.08 72.67L349.88 75.87L347.08 79.07L344.28 75.87Z" fill="#b4221a"/>
<path d="M347.06 69.00L349.86 72.20L347.06 75.40L344.26 72.20Z" fill="#b4221a"/>
<path d="M347.04 65.34L349.84 68.54L347.04 71.74L344.24 68.54Z" fill="#b4221a"/>
<path d="M347.02 61.67L349.82 64.87L347.02 68.07L344.22 64.87Z" fill="#b4221a"/>
<path d="M347.01 58.01L349.81 61.21L347.01 64.41L344.21 61.21Z" fill="#b4221a"/>
<path d="M346.99 54.34L349.79 57.54L346.99 60.74L344.19 57.54Z" fill="#b4221a"/>
<path d="M346.97 50.68L349.77 53.88L346.97 57.08L344.17 53.88Z" fill="#b4221a"/>
<path d="M346.95 47.01L349.75 50.21L346.95 53.41L344.15 50.21Z" fill="#b4221a"/>
<path d="M346.93 43.35L349.73 46.55L346.93 49.75L344.13 46.55Z" fill="#b4221a"/>
<path d="M346.91 39.68L349.71 42.88L346.91 46.08L344.11 42.88Z" fill="#b4221a"/>
<path d="M346.87 36.02L349.67 39.22L346.87 42.42L344.07 39.22Z" fill="#b4221a"/>
<path d="M346.73 32.35L349.53 35.55L346.73 38.75L343.93 35.55Z" fill="#b4221a"/>
<path d="M346.59 28.69L349.39 31.89L346.59 35.09L343.79 31.89Z" fill="#b4221a"/>
<path d="M346.45 25.02L349.25 28.22L346.45 31.42L343.65 28.22Z" fill="#b4221a"/>
<path d="M346.31 21.36L349.11 24.56L346.31 27.76L343.51 24.56Z" fill="#b4221a"/>
<path d="M346.17 17.69L348.97 20.89L346.17 24.09L343.37 20.89Z" fill="#b4221a"/>
<path d="M346.02 14.03L348.82 17.23L346.02 20.43L343.22 17.23Z" fill="#b4221a"/>
<path d="M345.88 10.36L348.68 13.56L345.88 16.76L343.08 13.56Z" fill="#b4221a"/>
<path d="M345.74 6.70L348.54 9.90L345.74 13.10L342.94 9.90Z" fill="#b4221a"/>
<path d="M345.60 3.03L348.40 6.23L345.60 9.43L342.80 6.23Z" fill="#b4221a"/>
<rect x="336.20" y="235.29" width="4.6" height="135.60" fill="#6a1c14"/>
<polyline points="338.50,369.07 338.50,365.40 338.50,361.74 338.50,358.07 338.50,354.41 338.50,350.74 338.50,347.08 338.50,343.41 338.50,339.75 338.50,336.08 338.50,332.42 338.50,328.75 338.50,325.09 338.50,321.42 338.50,317.76 338.50,314.09 338.50,310.43 338.50,306.76 338.50,303.10 338.50,299.43 338.50,295.77 338.50,292.10 338.50,288.44 338.50,284.77 338.50,281.11 338.50,277.44 338.50,273.78 338.50,270.11 338.50,266.45 338.50,262.78 338.50,259.12 338.50,255.45 338.50,251.79 338.50,248.12 338.50,244.46 338.50,240.79 338.50,237.13 338.50,233.46 338.60,229.80 339.50,226.13 343.20,222.47 350.20,218.80 359.60,215.14 369.20,211.47 376.20,207.81 380.50,204.14 381.50,200.48 381.50,196.81 380.00,193.15 378.50,189.48 377.50,185.82 376.46,182.15 375.58,178.49 374.73,174.82 373.96,171.16 373.25,167.49 372.74,163.83 372.34,160.16 371.88,156.50 371.35,152.83 370.82,149.17 370.10,145.50 369.37,141.84 368.90,138.17 368.70,134.51 368.50,130.84 368.29,127.18 368.09,123.51 367.89,119.85 367.73,116.18 367.58,112.52 367.42,108.85 367.26,105.19 367.10,101.52 366.94,97.86 366.78,94.19 366.63,90.53 366.47,86.86 366.31,83.20 366.16,79.53 366.02,75.87 365.87,72.20 365.73,68.54 365.58,64.87 365.44,61.21 365.29,57.54 365.15,53.88 365.00,50.21 364.86,46.55 364.71,42.88 364.51,39.22 364.11,35.55 363.71,31.89 363.31,28.22 362.91,24.56 362.51,20.89 362.11,17.23 361.71,13.56 361.30,9.90 360.90,6.23" fill="none" stroke="#707070" stroke-width="0.7"/>
<path d="M338.50 371.53L341.15 367.43L335.85 367.43Z" fill="#000000"/>
<path d="M338.50 367.86L341.15 363.76L335.85 363.76Z" fill="#000000"/>
<path d="M338.50 364.20L341.15 360.10L335.85 360.10Z" fill="#000000"/>
<path d="M338.50 360.53L341.15 356.43L335.85 356.43Z" fill="#000000"/>
<path d="M338.50 356.87L341.15 352.77L335.85 352.77Z" fill="#000000"/>
<path d="M338.50 353.20L341.15 349.10L335.85 349.10Z" fill="#000000"/>
<path d="M338.50 349.54L341.15 345.44L335.85 345.44Z" fill="#000000"/>
<path d="M338.50 345.87L341.15 341.77L335.85 341.77Z" fill="#000000"/>
<path d="M338.50 342.21L341.15 338.11L335.85 338.11Z" fill="#000000"/>
<path d="M338.50 338.54L341.15 334.44L335.85 334.44Z" fill="#000000"/>
<path d="M338.50 334.88L341.15 330.78L335.85 330.78Z" fill="#000000"/>
<path d="M338.50 331.21L341.15 327.11L335.85 327.11Z" fill="#000000"/>
<path d="M338.50 327.55L341.15 323.45L335.85 323.45Z" fill="#000000"/>
<path d="M338.50 323.88L341.15 319.78L335.85 319.78Z" fill="#000000"/>
<path d="M338.50 320.22L341.15 316.12L335.85 316.12Z" fill="#000000"/>
<path d="M338.50 316.55L341.15 312.45L335.85 312.45Z" fill="#000000"/>
<path d="M338.50 312.89L341.15 308.79L335.85 308.79Z" fill="#000000"/>
<path d="M338.50 309.22L341.15 305.12L335.85 305.12Z" fill="#000000"/>
<path d="M338.50 305.56L341.15 301.46L335.85 301.46Z" fill="#000000"/>
<path d="M338.50 301.89L341.15 297.79L335.85 297.79Z" fill="#000000"/>
<path d="M338.50 298.23L341.15 294.13L335.85 294.13Z" fill="#000000"/>
<path d="M338.50 294.56L341.15 290.46L335.85 290.46Z" fill="#000000"/>
<path d="M338.50 290.90L341.15 286.80L335.85 286.80Z" fill="#000000"/>
<path d="M338.50 287.23L341.15 283.13L335.85 283.13Z" fill="#000000"/>
<path d="M338.50 283.57L341.15 279.47L335.85 279.47Z" fill="#000000"/>
<path d="M338.50 279.90L341.15 275.80L335.85 275.80Z" fill="#000000"/>
<path d="M338.50 276.24L341.15 272.14L335.85 272.14Z" fill="#000000"/>
<path d="M338.50 272.57L341.15 268.47L335.85 268.47Z" fill="#000000"/>
<path d="M338.50 268.91L341.15 264.81L335.85 264.81Z" fill="#000000"/>
<path d="M338.50 265.24L341.15 261.14L335.85 261.14Z" fill="#000000"/>
<path d="M338.50 261.58L341.15 257.48L335.85 257.48Z" fill="#000000"/>
<path d="M338.50 257.91L341.15 253.81L335.85 253.81Z" fill="#000000"/>
<path d="M338.50 254.25L341.15 250.15L335.85 250.15Z" fill="#000000"/>
<path d="M338.50 250.58L341.15 246.48L335.85 246.48Z" fill="#000000"/>
<path d="M338.50 246.92L341.15 242.82L335.85 242.82Z" fill="#000000"/>
<path d="M338.50 243.25L341.15 239.15L335.85 239.15Z" fill="#000000"/>
<path d="M338.50 239.59L341.15 235.49L335.85 235.49Z" fill="#000000"/>
<path d="M338.50 235.92L341.15 231.82L335.85 231.82Z" fill="#000000"/>
<path d="M338.60 232.26L341.25 228.16L335.95 228.16Z" fill="#000000"/>
<path d="M339.50 228.59L342.15 224.49L336.85 224.49Z" fill="#000000"/>
<path d="M343.20 224.93L345.85 220.83L340.55 220.83Z" fill="#000000"/>
<path d="M350.20 221.26L352.85 217.16L347.55 217.16Z" fill="#000000"/>
<path d="M359.60 217.60L362.25 213.50L356.95 213.50Z" fill="#000000"/>
<path d="M369.20 213.93L371.85 209.83L366.55 209.83Z" fill="#000000"/>
<path d="M376.20 210.27L378.85 206.17L373.55 206.17Z" fill="#000000"/>
<path d="M380.50 206.60L383.15 202.50L377.85 202.50Z" fill="#000000"/>
<path d="M381.50 202.94L384.15 198.84L378.85 198.84Z" fill="#000000"/>
<path d="M381.50 199.27L384.15 195.17L378.85 195.17Z" fill="#000000"/>
<path d="M380.00 195.61L382.65 191.51L377.35 191.51Z" fill="#000000"/>
<path d="M378.50 191.94L381.15 187.84L375.85 187.84Z" fill="#000000"/>
<path d="M377.50 188.28L380.15 184.18L374.85 184.18Z" fill="#000000"/>
<path d="M376.46 184.61L379.11 180.51L373.81 180.51Z" fill="#000000"/>
<path d="M375.58 180.95L378.23 176.85L372.93 176.85Z" fill="#000000"/>
<path d="M374.73 177.28L377.38 173.18L372.08 173.18Z" fill="#000000"/>
<path d="M373.96 173.62L376.61 169.52L371.31 169.52Z" fill="#000000"/>
<path d="M373.25 169.95L375.90 165.85L370.60 165.85Z" fill="#000000"/>
<path d="M372.74 166.29L375.39 162.19L370.09 162.19Z" fill="#000000"/>
<path d="M372.34 162.62L374.99 158.52L369.69 158.52Z" fill="#000000"/>
<path d="M371.88 158.96L374.53 154.86L369.23 154.86Z" fill="#000000"/>
<path d="M371.35 155.29L374.00 151.19L368.70 151.19Z" fill="#000000"/>
<path d="M370.82 151.63L373.47 147.53L368.17 147.53Z" fill="#000000"/>
<path d="M370.10 147.96L372.75 143.86L367.45 143.86Z" fill="#000000"/>
<path d="M369.37 144.30L372.02 140.20L366.72 140.20Z" fill="#000000"/>
<path d="M368.90 140.63L371.55 136.53L366.25 136.53Z" fill="#000000"/>
<path d="M368.70 136.97L371.35 132.87L366.05 132.87Z" fill="#000000"/>
<path d="M368.50 133.30L371.15 129.20L365.85 129.20Z" fill="#000000"/>
<path d="M368.29 129.64L370.94 125.54L365.64 125.54Z" fill="#000000"/>
<path d="M368.09 125.97L370.74 121.87L365.44 121.87Z" fill="#000000"/>
<path d="M367.89 122.31L370.54 118.21L365.24 118.21Z" fill="#000000"/>
<path d="M367.73 118.64L370.38 114.54L365.08 114.54Z" fill="#000000"/>
<path d="M367.58 114.98L370.23 110.88L364.93 110.88Z" fill="#000000"/>
<path d="M367.42 111.31L370.07 107.21L364.77 107.21Z" fill="#000000"/>
<path d="M367.26 107.65L369.91 103.55L364.61 103.55Z" fill="#000000"/>
<path d="M367.10 103.98L369.75 99.88L364.45 99.88Z" fill="#000000"/>
<path d="M366.94 100.32L369.59 96.22L364.29 96.22Z" fill="#000000"/>
<path d="M366.78 96.65L369.43 92.55L364.13 92.55Z" fill="#000000"/>
<path d="M366.63 92.99L369.28 88.89L363.98 88.89Z" fill="#000000"/>
<path d="M366.47 89.32L369.12 85.22L363.82 85.22Z" fill="#000000"/>
<path d="M366.31 85.66L368.96 81.56L363.66 81.56Z" fill="#000000"/>
<path d="M366.16 81.99L368.81 77.89L363.51 77.89Z" fill="#000000"/>
<path d="M366.02 78.33L368.67 74.23L363.37 74.23Z" fill="#000000"/>
<path d="M365.87 74.66L368.52 70.56L363.22 70.56Z" fill="#000000"/>
<path d="M365.73 71.00L368.38 66.90L363.08 66.90Z" fill="#000000"/>
<path d="M365.58 67.33L368.23 63.23L362.93 63.23Z" fill="#000000"/>
<path d="M365.44 63.67L368.09 59.57L362.79 59.57Z" fill="#000000"/>
<path d="M365.29 60.00L367.94 55.90L362.64 55.90Z" fill="#000000"/>
<path d="M365.15 56.34L367.80 52.24L362.50 52.24Z" fill="#000000"/>
<path d="M365.00 52.67L367.65 48.57L362.35 48.57Z" fill="#000000"/>
<path d="M364.86 49.01L367.51 44.91L362.21 44.91Z" fill="#000000"/>
<path d="M364.71 45.34L367.36 41.24L362.06 41.24Z" fill="#000000"/>
<path d="M364.51 41.68L367.16 37.58L361.86 37.58Z" fill="#000000"/>
<path d="M364.11 38.01L366.76 33.91L361.46 33.91Z" fill="#000000"/>
<path d="M363.71 34.35L366.36 30.25L361.06 30.25Z" fill="#000000"/>
<path d="M363.31 30.68L365.96 26.58L360.66 26.58Z" fill="#000000"/>
<path d="M362.91 27.02L365.56 22.92L360.26 22.92Z" fill="#000000"/>
<path d="M362.51 23.35L365.16 19.25L359.86 19.25Z" fill="#000000"/>
<path d="M362.11 19.69L364.76 15.59L359.46 15.59Z" fill="#000000"/>
<path d="M361.71 16.02L364.36 11.92L359.06 11.92Z" fill="#000000"/>
<path d="M361.30 12.36L363.95 8.26L358.65 8.26Z" fill="#000000"/>
<path d="M360.90 8.69L363.55 4.59L358.25 4.59Z" fill="#000000"/>
</g>
<g font-family="Liberation Sans, sans-serif" font-size="8.7" fill="#1a1a1a" stroke="#1a1a1a" stroke-width="0.4">
<text x="44.50" y="384" text-anchor="middle">0</text>
<text x="86.70" y="384" text-anchor="middle">0.005</text>
<text x="129.60" y="384" text-anchor="middle">0.01</text>
<text x="172.70" y="384" text-anchor="middle">0.015</text>
<text x="215.40" y="384" text-anchor="middle">0.02</text>
<text x="258.50" y="384" text-anchor="middle">0.025</text>
<text x="41.6" y="375.20" text-anchor="end">0</text>
<text x="41.6" y="338.55" text-anchor="end">10</text>
<text x="41.6" y="301.90" text-anchor="end">20</text>
<text x="41.6" y="265.25" text-anchor="end">30</text>
<text x="41.6" y="228.60" text-anchor="end">40</text>
<text x="41.6" y="191.95" text-anchor="end">50</text>
<text x="41.6" y="155.30" text-anchor="end">60</text>
<text x="41.6" y="118.65" text-anchor="end">70</text>
<text x="41.6" y="82.00" text-anchor="end">80</text>
<text x="41.6" y="45.35" text-anchor="end">90</text>
<text x="41.6" y="8.70" text-anchor="end">100</text>
<text x="338.50" y="384" text-anchor="middle">0</text>
<text x="374.00" y="384" text-anchor="middle">0.02</text>
<text x="409.70" y="384" text-anchor="middle">0.04</text>
<text x="445.40" y="384" text-anchor="middle">0.06</text>
<text x="481.10" y="384" text-anchor="middle">0.08</text>
<text x="516.70" y="384" text-anchor="middle">0.1</text>
<text x="552.50" y="384" text-anchor="middle">0.12</text>
<text x="335.5" y="375.20" text-anchor="end">0</text>
<text x="335.5" y="338.55" text-anchor="end">10</text>
<text x="335.5" y="301.90" text-anchor="end">20</text>
<text x="335.5" y="265.25" text-anchor="end">30</text>
<text x="335.5" y="228.60" text-anchor="end">40</text>
<text x="335.5" y="191.95" text-anchor="end">50</text>
<text x="335.5" y="155.30" text-anchor="end">60</text>
<text x="335.5" y="118.65" text-anchor="end">70</text>
<text x="335.5" y="82.00" text-anchor="end">80</text>
<text x="335.5" y="45.35" text-anchor="end">90</text>
<text x="335.5" y="8.70" text-anchor="end">100</text>
</g>
<g font-family="Liberation Sans, sans-serif" fill="#1a1a1a">
<rect x="69.5" y="276.5" width="186.5" height="92.0" fill="#ffffff" stroke="#808080" stroke-width="1"/>
<line x1="72.6" y1="284.7" x2="92.3" y2="284.7" stroke="#5a48e0" stroke-width="0.8"/>
<circle cx="82.50" cy="284.70" r="1.7" fill="#2800b0"/>
<text x="94.5" y="289.50" font-size="9.15" fill="#1a1a1a" stroke="#1a1a1a" stroke-width="0.4">w/o membrane, I=200M</text>
<line x1="72.6" y1="299.8" x2="92.3" y2="299.8" stroke="#a8e898" stroke-width="0.8"/>
<rect x="80.80" y="298.10" width="3.4" height="3.4" fill="#62cc38"/>
<text x="94.5" y="304.60" font-size="9.15" fill="#1a1a1a" stroke="#1a1a1a" stroke-width="0.4">w/o membrane charges, I=200M</text>
<line x1="72.6" y1="314.9" x2="92.3" y2="314.9" stroke="#dcac72" stroke-width="0.8"/>
<path d="M82.50 312.50L85.10 316.50L79.90 316.50Z" fill="#c8893a"/>
<text x="94.5" y="319.70" font-size="9.15" fill="#1a1a1a" stroke="#1a1a1a" stroke-width="0.4">with membrane, I=200M</text>
<line x1="72.6" y1="330.0" x2="92.3" y2="330.0" stroke="#ecc8a0" stroke-width="0.8"/>
<path d="M82.50 327.60L85.00 331.60L80.00 331.60Z" fill="none" stroke="#dfb084" stroke-width="0.7"/>
<text x="94.5" y="334.80" font-size="9.15" fill="#1a1a1a" stroke="#1a1a1a" stroke-width="0.4">with membrane, I=50M</text>
<line x1="72.6" y1="345.09999999999997" x2="92.3" y2="345.09999999999997" stroke="#d4807a" stroke-width="0.8"/>
<path d="M82.50 341.90L85.30 345.10L82.50 348.30L79.70 345.10Z" fill="#b4221a"/>
<text x="94.5" y="349.90" font-size="9.15" fill="#1a1a1a" stroke="#1a1a1a" stroke-width="0.4">with -0.2e charged membrane; I=200M</text>
<line x1="72.6" y1="360.2" x2="92.3" y2="360.2" stroke="#707070" stroke-width="0.8"/>
<path d="M82.50 362.66L85.15 358.56L79.85 358.56Z" fill="#000000"/>
<text x="94.5" y="365.00" font-size="9.15" fill="#1a1a1a" stroke="#1a1a1a" stroke-width="0.4">w/o COX charges, I=200M</text>
<rect x="363.5" y="276.5" width="186.5" height="92.0" fill="#ffffff" stroke="#808080" stroke-width="1"/>
<line x1="366.6" y1="284.7" x2="386.3" y2="284.7" stroke="#5a48e0" stroke-width="0.8"/>
<circle cx="376.50" cy="284.70" r="1.7" fill="#2800b0"/>
<text x="388.5" y="289.50" font-size="9.15" fill="#1a1a1a" stroke="#1a1a1a" stroke-width="0.4">w/o membrane, I=200M</text>
<line x1="366.6" y1="299.8" x2="386.3" y2="299.8" stroke="#a8e898" stroke-width="0.8"/>
<rect x="374.80" y="298.10" width="3.4" height="3.4" fill="#62cc38"/>
<text x="388.5" y="304.60" font-size="9.15" fill="#1a1a1a" stroke="#1a1a1a" stroke-width="0.4">w/o membrane charges, I=200M</text>
<line x1="366.6" y1="314.9" x2="386.3" y2="314.9" stroke="#dcac72" stroke-width="0.8"/>
<path d="M376.50 312.50L379.10 316.50L373.90 316.50Z" fill="#c8893a"/>
<text x="388.5" y="319.70" font-size="9.15" fill="#1a1a1a" stroke="#1a1a1a" stroke-width="0.4">with membrane, I=200M</text>
<line x1="366.6" y1="330.0" x2="386.3" y2="330.0" stroke="#ecc8a0" stroke-width="0.8"/>
<path d="M376.50 327.60L379.00 331.60L374.00 331.60Z" fill="none" stroke="#dfb084" stroke-width="0.7"/>
<text x="388.5" y="334.80" font-size="9.15" fill="#1a1a1a" stroke="#1a1a1a" stroke-width="0.4">with membrane, I=140M</text>
<line x1="366.6" y1="345.09999999999997" x2="386.3" y2="345.09999999999997" stroke="#d4807a" stroke-width="0.8"/>
<path d="M376.50 341.90L379.30 345.10L376.50 348.30L373.70 345.10Z" fill="#b4221a"/>
<text x="388.5" y="349.90" font-size="9.15" fill="#1a1a1a" stroke="#1a1a1a" stroke-width="0.4">with -0.2e charged membrane; I=200M</text>
<line x1="366.6" y1="360.2" x2="386.3" y2="360.2" stroke="#707070" stroke-width="0.8"/>
<path d="M376.50 362.66L379.15 358.56L373.85 358.56Z" fill="#000000"/>
<text x="388.5" y="365.00" font-size="9.15" fill="#1a1a1a" stroke="#1a1a1a" stroke-width="0.4">w/o COX charges, I=200M</text>
</g>
<g font-family="Liberation Sans, sans-serif" font-size="9.1" fill="#1a1a1a" stroke="#1a1a1a" stroke-width="0.4">
<text x="150.3" y="395.7" text-anchor="middle">normalized density</text>
<text x="444.2" y="395.7" text-anchor="middle">normalized density</text>
<text transform="translate(21.9 188.3) rotate(-90)" text-anchor="middle">z [A]</text>
<text transform="translate(315.7 188.3) rotate(-90)" text-anchor="middle">z [A]</text>
</g>
<g font-family="Liberation Sans, sans-serif" font-size="13.4" font-weight="bold" fill="#000" stroke="#000" stroke-width="0.3">
<text x="0.8" y="10.9">A</text>
<text x="290.5" y="10.8">B</text>
</g>
</svg>
</body></html>
